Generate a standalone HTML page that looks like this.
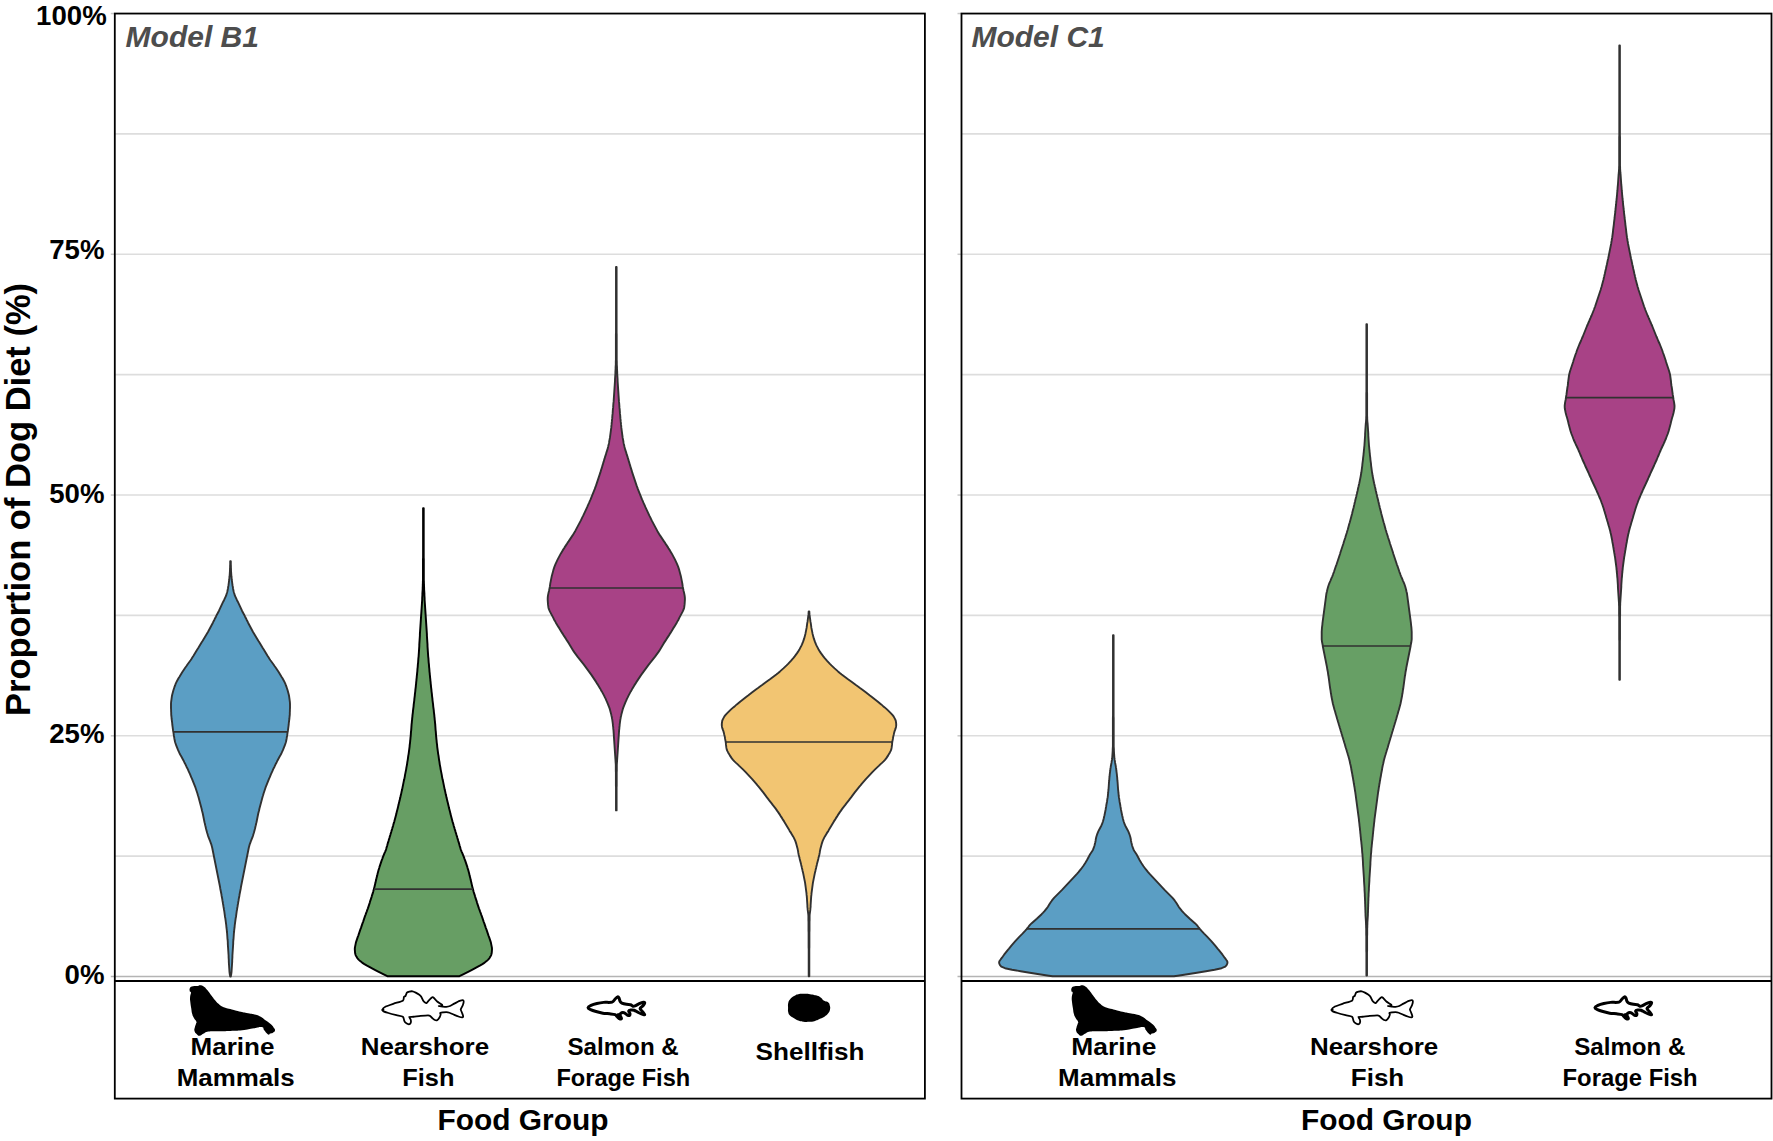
<!DOCTYPE html>
<html lang="en"><head><meta charset="utf-8"><title>Dog diet violin plots</title>
<style>
html,body{margin:0;padding:0;background:#fff;}
svg{display:block;font-family:"Liberation Sans",sans-serif;font-weight:bold;fill:#000;}
</style></head><body>
<svg width="1773" height="1141" viewBox="0 0 1773 1141">
<rect width="1773" height="1141" fill="#fff"/>
<line x1="114.8" x2="924.9" y1="856.17" y2="856.17" stroke="#dddddd" stroke-width="1.6"/>
<line x1="114.8" x2="924.9" y1="735.80" y2="735.80" stroke="#dddddd" stroke-width="1.6"/>
<line x1="114.8" x2="924.9" y1="615.42" y2="615.42" stroke="#dddddd" stroke-width="1.6"/>
<line x1="114.8" x2="924.9" y1="495.05" y2="495.05" stroke="#dddddd" stroke-width="1.6"/>
<line x1="114.8" x2="924.9" y1="374.67" y2="374.67" stroke="#dddddd" stroke-width="1.6"/>
<line x1="114.8" x2="924.9" y1="254.30" y2="254.30" stroke="#dddddd" stroke-width="1.6"/>
<line x1="114.8" x2="924.9" y1="133.92" y2="133.92" stroke="#dddddd" stroke-width="1.6"/>
<line x1="110.8" x2="924.9" y1="976.55" y2="976.55" stroke="#b4b4b4" stroke-width="1.5"/>
<line x1="110.8" x2="114.8" y1="735.80" y2="735.80" stroke="#c8c8c8" stroke-width="1.5"/>
<line x1="110.8" x2="114.8" y1="495.05" y2="495.05" stroke="#c8c8c8" stroke-width="1.5"/>
<line x1="110.8" x2="114.8" y1="254.30" y2="254.30" stroke="#c8c8c8" stroke-width="1.5"/>
<line x1="110.8" x2="114.8" y1="13.55" y2="13.55" stroke="#c8c8c8" stroke-width="1.5"/>
<line x1="961.5" x2="1771.5" y1="856.17" y2="856.17" stroke="#dddddd" stroke-width="1.6"/>
<line x1="961.5" x2="1771.5" y1="735.80" y2="735.80" stroke="#dddddd" stroke-width="1.6"/>
<line x1="961.5" x2="1771.5" y1="615.42" y2="615.42" stroke="#dddddd" stroke-width="1.6"/>
<line x1="961.5" x2="1771.5" y1="495.05" y2="495.05" stroke="#dddddd" stroke-width="1.6"/>
<line x1="961.5" x2="1771.5" y1="374.67" y2="374.67" stroke="#dddddd" stroke-width="1.6"/>
<line x1="961.5" x2="1771.5" y1="254.30" y2="254.30" stroke="#dddddd" stroke-width="1.6"/>
<line x1="961.5" x2="1771.5" y1="133.92" y2="133.92" stroke="#dddddd" stroke-width="1.6"/>
<line x1="957.5" x2="1771.5" y1="976.55" y2="976.55" stroke="#b4b4b4" stroke-width="1.5"/>
<line x1="957.5" x2="961.5" y1="735.80" y2="735.80" stroke="#c8c8c8" stroke-width="1.5"/>
<line x1="957.5" x2="961.5" y1="495.05" y2="495.05" stroke="#c8c8c8" stroke-width="1.5"/>
<line x1="957.5" x2="961.5" y1="254.30" y2="254.30" stroke="#c8c8c8" stroke-width="1.5"/>
<line x1="957.5" x2="961.5" y1="13.55" y2="13.55" stroke="#c8c8c8" stroke-width="1.5"/>
<path d="M230.8,561.2 L230.8,562.7 L230.8,564.2 L230.9,565.7 L230.9,567.2 L231.0,568.7 L231.0,570.2 L231.1,571.7 L231.2,573.2 L231.3,574.7 L231.4,576.2 L231.6,577.7 L231.7,579.2 L231.9,580.7 L232.1,582.2 L232.3,583.7 L232.5,585.2 L232.8,586.7 L233.0,588.2 L233.3,589.7 L233.6,591.2 L234.0,592.7 L234.5,594.2 L234.9,595.7 L235.6,597.2 L236.3,598.7 L237.0,600.2 L237.8,601.7 L238.5,603.2 L239.2,604.7 L239.9,606.2 L240.6,607.7 L241.3,609.2 L242.0,610.7 L242.8,612.2 L243.6,613.7 L244.4,615.2 L245.1,616.7 L245.9,618.2 L246.6,619.7 L247.4,621.2 L248.1,622.7 L248.9,624.2 L249.7,625.7 L250.5,627.2 L251.3,628.7 L252.1,630.2 L252.9,631.7 L253.8,633.2 L254.7,634.7 L255.6,636.2 L256.5,637.7 L257.4,639.2 L258.3,640.7 L259.3,642.2 L260.2,643.7 L261.1,645.2 L262.0,646.7 L262.9,648.2 L263.9,649.7 L264.8,651.2 L265.7,652.7 L266.6,654.2 L267.5,655.7 L268.5,657.2 L269.4,658.7 L270.4,660.2 L271.5,661.7 L272.6,663.2 L273.7,664.7 L274.7,666.2 L275.8,667.7 L276.8,669.2 L277.8,670.7 L278.8,672.2 L279.7,673.7 L280.6,675.2 L281.5,676.7 L282.5,678.2 L283.3,679.7 L284.1,681.2 L284.8,682.7 L285.5,684.2 L286.0,685.7 L286.6,687.2 L287.1,688.7 L287.6,690.2 L288.0,691.7 L288.4,693.2 L288.8,694.7 L289.1,696.2 L289.3,697.7 L289.5,699.2 L289.7,700.7 L289.9,702.2 L290.0,703.7 L290.0,705.2 L290.0,706.7 L290.0,708.2 L289.9,709.7 L289.9,711.2 L289.8,712.7 L289.8,714.2 L289.7,715.7 L289.5,717.2 L289.4,718.7 L289.2,720.2 L289.0,721.7 L288.8,723.2 L288.7,724.7 L288.5,726.2 L288.3,727.7 L288.1,729.2 L287.9,730.7 L287.6,732.2 L287.4,733.7 L287.2,735.2 L286.9,736.7 L286.7,738.2 L286.4,739.7 L286.1,741.2 L285.7,742.7 L285.2,744.2 L284.7,745.7 L284.1,747.2 L283.5,748.7 L282.9,750.2 L282.2,751.7 L281.5,753.2 L280.7,754.7 L279.8,756.2 L279.0,757.7 L278.2,759.2 L277.4,760.7 L276.7,762.2 L275.9,763.7 L275.2,765.2 L274.5,766.7 L273.7,768.2 L273.0,769.7 L272.4,771.2 L271.7,772.7 L271.0,774.2 L270.4,775.7 L269.8,777.2 L269.1,778.7 L268.5,780.2 L267.9,781.7 L267.3,783.2 L266.7,784.7 L266.1,786.2 L265.5,787.7 L265.0,789.2 L264.5,790.7 L264.0,792.2 L263.5,793.7 L263.1,795.2 L262.6,796.7 L262.2,798.2 L261.8,799.7 L261.4,801.2 L261.0,802.7 L260.6,804.2 L260.2,805.7 L259.8,807.2 L259.4,808.7 L259.1,810.2 L258.7,811.7 L258.3,813.2 L258.0,814.7 L257.7,816.2 L257.4,817.7 L257.1,819.2 L256.8,820.7 L256.5,822.2 L256.1,823.7 L255.8,825.2 L255.4,826.7 L255.1,828.2 L254.7,829.7 L254.3,831.2 L253.9,832.7 L253.4,834.2 L253.0,835.7 L252.5,837.2 L251.9,838.7 L251.3,840.2 L250.7,841.7 L250.2,843.2 L249.6,844.7 L249.2,846.2 L248.8,847.7 L248.5,849.2 L248.2,850.7 L247.9,852.2 L247.6,853.7 L247.3,855.2 L247.0,856.7 L246.7,858.2 L246.4,859.7 L246.1,861.2 L245.8,862.7 L245.5,864.2 L245.2,865.7 L244.9,867.2 L244.6,868.7 L244.3,870.2 L244.0,871.7 L243.7,873.2 L243.4,874.7 L243.1,876.2 L242.8,877.7 L242.5,879.2 L242.2,880.7 L241.9,882.2 L241.6,883.7 L241.3,885.2 L241.0,886.7 L240.8,888.2 L240.5,889.7 L240.2,891.2 L239.9,892.7 L239.6,894.2 L239.4,895.7 L239.1,897.2 L238.8,898.7 L238.6,900.2 L238.3,901.7 L238.1,903.2 L237.8,904.7 L237.6,906.2 L237.3,907.7 L237.1,909.2 L236.8,910.7 L236.6,912.2 L236.4,913.7 L236.2,915.2 L236.0,916.7 L235.7,918.2 L235.5,919.7 L235.3,921.2 L235.1,922.7 L234.9,924.2 L234.7,925.7 L234.6,927.2 L234.4,928.7 L234.2,930.2 L234.1,931.7 L233.9,933.2 L233.8,934.7 L233.7,936.2 L233.6,937.7 L233.5,939.2 L233.3,940.7 L233.2,942.2 L233.2,943.7 L233.1,945.2 L233.0,946.7 L232.9,948.2 L232.8,949.7 L232.7,951.2 L232.6,952.7 L232.5,954.2 L232.4,955.7 L232.4,957.2 L232.3,958.7 L232.2,960.2 L232.2,961.7 L232.1,963.2 L232.0,964.7 L231.9,966.2 L231.8,967.7 L231.7,969.2 L231.6,970.7 L231.5,972.2 L231.3,973.7 L231.0,975.2 L230.8,976.6 L230.2,976.6 L230.0,975.2 L229.7,973.7 L229.5,972.2 L229.4,970.7 L229.3,969.2 L229.2,967.7 L229.1,966.2 L229.0,964.7 L228.9,963.2 L228.8,961.7 L228.8,960.2 L228.7,958.7 L228.6,957.2 L228.6,955.7 L228.5,954.2 L228.4,952.7 L228.3,951.2 L228.2,949.7 L228.1,948.2 L228.0,946.7 L227.9,945.2 L227.8,943.7 L227.8,942.2 L227.7,940.7 L227.5,939.2 L227.4,937.7 L227.3,936.2 L227.2,934.7 L227.1,933.2 L226.9,931.7 L226.8,930.2 L226.6,928.7 L226.4,927.2 L226.3,925.7 L226.1,924.2 L225.9,922.7 L225.7,921.2 L225.5,919.7 L225.3,918.2 L225.0,916.7 L224.8,915.2 L224.6,913.7 L224.4,912.2 L224.2,910.7 L223.9,909.2 L223.7,907.7 L223.4,906.2 L223.2,904.7 L222.9,903.2 L222.7,901.7 L222.4,900.2 L222.2,898.7 L221.9,897.2 L221.6,895.7 L221.4,894.2 L221.1,892.7 L220.8,891.2 L220.5,889.7 L220.2,888.2 L220.0,886.7 L219.7,885.2 L219.4,883.7 L219.1,882.2 L218.8,880.7 L218.5,879.2 L218.2,877.7 L217.9,876.2 L217.6,874.7 L217.3,873.2 L217.0,871.7 L216.7,870.2 L216.4,868.7 L216.1,867.2 L215.8,865.7 L215.5,864.2 L215.2,862.7 L214.9,861.2 L214.6,859.7 L214.3,858.2 L214.0,856.7 L213.7,855.2 L213.4,853.7 L213.1,852.2 L212.8,850.7 L212.5,849.2 L212.2,847.7 L211.8,846.2 L211.4,844.7 L210.8,843.2 L210.3,841.7 L209.7,840.2 L209.1,838.7 L208.5,837.2 L208.0,835.7 L207.6,834.2 L207.1,832.7 L206.7,831.2 L206.3,829.7 L205.9,828.2 L205.6,826.7 L205.2,825.2 L204.9,823.7 L204.5,822.2 L204.2,820.7 L203.9,819.2 L203.6,817.7 L203.3,816.2 L203.0,814.7 L202.7,813.2 L202.3,811.7 L201.9,810.2 L201.6,808.7 L201.2,807.2 L200.8,805.7 L200.4,804.2 L200.0,802.7 L199.6,801.2 L199.2,799.7 L198.8,798.2 L198.4,796.7 L197.9,795.2 L197.5,793.7 L197.0,792.2 L196.5,790.7 L196.0,789.2 L195.5,787.7 L194.9,786.2 L194.3,784.7 L193.7,783.2 L193.1,781.7 L192.5,780.2 L191.9,778.7 L191.2,777.2 L190.6,775.7 L190.0,774.2 L189.3,772.7 L188.6,771.2 L188.0,769.7 L187.3,768.2 L186.5,766.7 L185.8,765.2 L185.1,763.7 L184.3,762.2 L183.6,760.7 L182.8,759.2 L182.0,757.7 L181.2,756.2 L180.3,754.7 L179.5,753.2 L178.8,751.7 L178.1,750.2 L177.5,748.7 L176.9,747.2 L176.3,745.7 L175.8,744.2 L175.3,742.7 L174.9,741.2 L174.6,739.7 L174.3,738.2 L174.1,736.7 L173.8,735.2 L173.6,733.7 L173.4,732.2 L173.1,730.7 L172.9,729.2 L172.7,727.7 L172.5,726.2 L172.3,724.7 L172.2,723.2 L172.0,721.7 L171.8,720.2 L171.6,718.7 L171.5,717.2 L171.3,715.7 L171.2,714.2 L171.2,712.7 L171.1,711.2 L171.1,709.7 L171.0,708.2 L171.0,706.7 L171.0,705.2 L171.0,703.7 L171.1,702.2 L171.3,700.7 L171.5,699.2 L171.7,697.7 L171.9,696.2 L172.2,694.7 L172.6,693.2 L173.0,691.7 L173.4,690.2 L173.9,688.7 L174.4,687.2 L175.0,685.7 L175.5,684.2 L176.2,682.7 L176.9,681.2 L177.7,679.7 L178.5,678.2 L179.5,676.7 L180.4,675.2 L181.3,673.7 L182.2,672.2 L183.2,670.7 L184.2,669.2 L185.2,667.7 L186.3,666.2 L187.3,664.7 L188.4,663.2 L189.5,661.7 L190.6,660.2 L191.6,658.7 L192.5,657.2 L193.5,655.7 L194.4,654.2 L195.3,652.7 L196.2,651.2 L197.1,649.7 L198.1,648.2 L199.0,646.7 L199.9,645.2 L200.8,643.7 L201.7,642.2 L202.7,640.7 L203.6,639.2 L204.5,637.7 L205.4,636.2 L206.3,634.7 L207.2,633.2 L208.1,631.7 L208.9,630.2 L209.7,628.7 L210.5,627.2 L211.3,625.7 L212.1,624.2 L212.9,622.7 L213.6,621.2 L214.4,619.7 L215.1,618.2 L215.9,616.7 L216.6,615.2 L217.4,613.7 L218.2,612.2 L219.0,610.7 L219.7,609.2 L220.4,607.7 L221.1,606.2 L221.8,604.7 L222.5,603.2 L223.2,601.7 L224.0,600.2 L224.7,598.7 L225.4,597.2 L226.1,595.7 L226.5,594.2 L227.0,592.7 L227.4,591.2 L227.7,589.7 L228.0,588.2 L228.2,586.7 L228.5,585.2 L228.7,583.7 L228.9,582.2 L229.1,580.7 L229.3,579.2 L229.4,577.7 L229.6,576.2 L229.7,574.7 L229.8,573.2 L229.9,571.7 L230.0,570.2 L230.0,568.7 L230.1,567.2 L230.1,565.7 L230.2,564.2 L230.2,562.7 L230.2,561.2Z" fill="#5b9ec4" stroke="#313131" stroke-width="1.9" stroke-linejoin="round"/><line x1="173.3" x2="287.7" y1="731.8" y2="731.8" stroke="#313131" stroke-width="1.7"/>
<path d="M423.7,508.1 L423.7,509.6 L423.7,511.1 L423.7,512.6 L423.7,514.1 L423.7,515.6 L423.7,517.1 L423.7,518.6 L423.7,520.1 L423.7,521.6 L423.7,523.1 L423.7,524.6 L423.7,526.1 L423.7,527.6 L423.7,529.1 L423.7,530.6 L423.7,532.1 L423.7,533.6 L423.7,535.1 L423.7,536.6 L423.7,538.1 L423.7,539.6 L423.7,541.1 L423.7,542.6 L423.7,544.1 L423.7,545.6 L423.7,547.1 L423.7,548.6 L423.7,550.1 L423.7,551.6 L423.7,553.1 L423.7,554.6 L423.7,556.1 L423.7,557.6 L423.8,559.1 L423.8,560.6 L423.8,562.1 L423.8,563.6 L423.8,565.1 L423.8,566.6 L423.8,568.1 L423.8,569.6 L423.8,571.1 L423.8,572.6 L423.8,574.1 L423.8,575.6 L423.8,577.1 L423.8,578.6 L423.8,580.1 L423.9,581.6 L423.9,583.1 L424.0,584.6 L424.0,586.1 L424.1,587.6 L424.1,589.1 L424.2,590.6 L424.3,592.1 L424.4,593.6 L424.4,595.1 L424.5,596.6 L424.6,598.1 L424.6,599.6 L424.7,601.1 L424.8,602.6 L424.9,604.1 L425.0,605.6 L425.1,607.1 L425.2,608.6 L425.3,610.1 L425.4,611.6 L425.5,613.1 L425.6,614.6 L425.7,616.1 L425.8,617.6 L425.9,619.1 L426.0,620.6 L426.1,622.1 L426.2,623.6 L426.3,625.1 L426.4,626.6 L426.5,628.1 L426.6,629.6 L426.7,631.1 L426.8,632.6 L426.9,634.1 L426.9,635.6 L427.0,637.1 L427.1,638.6 L427.2,640.1 L427.3,641.6 L427.4,643.1 L427.5,644.6 L427.5,646.1 L427.6,647.6 L427.7,649.1 L427.8,650.6 L427.9,652.1 L428.0,653.6 L428.1,655.1 L428.2,656.6 L428.4,658.1 L428.5,659.6 L428.6,661.1 L428.7,662.6 L428.9,664.1 L429.0,665.6 L429.1,667.1 L429.3,668.6 L429.4,670.1 L429.5,671.6 L429.7,673.1 L429.8,674.6 L430.0,676.1 L430.1,677.6 L430.3,679.1 L430.4,680.6 L430.6,682.1 L430.7,683.6 L430.9,685.1 L431.0,686.6 L431.2,688.1 L431.4,689.6 L431.5,691.1 L431.7,692.6 L431.9,694.1 L432.0,695.6 L432.2,697.1 L432.4,698.6 L432.5,700.1 L432.7,701.6 L432.9,703.1 L433.1,704.6 L433.2,706.1 L433.4,707.6 L433.6,709.1 L433.8,710.6 L433.9,712.1 L434.1,713.6 L434.3,715.1 L434.4,716.6 L434.6,718.1 L434.7,719.6 L434.9,721.1 L435.0,722.6 L435.2,724.1 L435.3,725.6 L435.4,727.1 L435.5,728.6 L435.6,730.1 L435.8,731.6 L435.9,733.1 L436.0,734.6 L436.1,736.1 L436.3,737.6 L436.4,739.1 L436.6,740.6 L436.7,742.1 L436.9,743.6 L437.1,745.1 L437.2,746.6 L437.4,748.1 L437.6,749.6 L437.8,751.1 L438.0,752.6 L438.2,754.1 L438.5,755.6 L438.7,757.1 L438.9,758.6 L439.1,760.1 L439.4,761.6 L439.6,763.1 L439.8,764.6 L440.1,766.1 L440.4,767.6 L440.6,769.1 L440.9,770.6 L441.2,772.1 L441.5,773.6 L441.8,775.1 L442.0,776.6 L442.3,778.1 L442.6,779.6 L443.0,781.1 L443.3,782.6 L443.6,784.1 L443.9,785.6 L444.2,787.1 L444.5,788.6 L444.8,790.1 L445.2,791.6 L445.5,793.1 L445.8,794.6 L446.2,796.1 L446.5,797.6 L446.9,799.1 L447.2,800.6 L447.6,802.1 L448.0,803.6 L448.3,805.1 L448.7,806.6 L449.0,808.1 L449.4,809.6 L449.8,811.1 L450.2,812.6 L450.5,814.1 L450.9,815.6 L451.3,817.1 L451.7,818.6 L452.1,820.1 L452.5,821.6 L453.0,823.1 L453.4,824.6 L453.8,826.1 L454.3,827.6 L454.7,829.1 L455.2,830.6 L455.6,832.1 L456.1,833.6 L456.5,835.1 L457.0,836.6 L457.4,838.1 L457.9,839.6 L458.3,841.1 L458.8,842.6 L459.2,844.1 L459.6,845.6 L460.1,847.1 L460.5,848.6 L461.0,850.1 L461.6,851.6 L462.3,853.1 L462.9,854.6 L463.5,856.1 L464.1,857.6 L464.6,859.1 L465.2,860.6 L465.7,862.1 L466.2,863.6 L466.7,865.1 L467.2,866.6 L467.6,868.1 L468.1,869.6 L468.5,871.1 L468.9,872.6 L469.3,874.1 L469.6,875.6 L470.0,877.1 L470.4,878.6 L470.7,880.1 L471.1,881.6 L471.4,883.1 L471.8,884.6 L472.1,886.1 L472.5,887.6 L472.9,889.1 L473.3,890.6 L473.7,892.1 L474.2,893.6 L474.7,895.1 L475.1,896.6 L475.6,898.1 L476.1,899.6 L476.6,901.1 L477.0,902.6 L477.5,904.1 L478.0,905.6 L478.5,907.1 L479.0,908.6 L479.6,910.1 L480.1,911.6 L480.7,913.1 L481.2,914.6 L481.8,916.1 L482.3,917.6 L482.8,919.1 L483.3,920.6 L483.8,922.1 L484.4,923.6 L484.9,925.1 L485.4,926.6 L485.9,928.1 L486.5,929.6 L487.0,931.1 L487.5,932.6 L488.0,934.1 L488.5,935.6 L489.1,937.1 L489.6,938.6 L490.1,940.1 L490.6,941.6 L491.0,943.1 L491.3,944.6 L491.6,946.1 L491.9,947.6 L492.0,949.1 L491.9,950.6 L491.8,952.1 L491.6,953.6 L491.2,955.1 L490.4,956.6 L489.5,958.1 L488.2,959.6 L486.6,961.1 L484.7,962.6 L482.4,964.1 L479.8,965.6 L477.0,967.1 L474.3,968.6 L471.5,970.1 L468.6,971.6 L465.6,973.1 L462.6,974.6 L459.5,976.1 L459.1,976.3 L387.7,976.3 L387.3,976.1 L384.2,974.6 L381.2,973.1 L378.2,971.6 L375.3,970.1 L372.5,968.6 L369.8,967.1 L367.0,965.6 L364.4,964.1 L362.1,962.6 L360.2,961.1 L358.6,959.6 L357.3,958.1 L356.4,956.6 L355.6,955.1 L355.2,953.6 L355.0,952.1 L354.9,950.6 L354.8,949.1 L354.9,947.6 L355.2,946.1 L355.5,944.6 L355.8,943.1 L356.2,941.6 L356.7,940.1 L357.2,938.6 L357.7,937.1 L358.3,935.6 L358.8,934.1 L359.3,932.6 L359.8,931.1 L360.3,929.6 L360.9,928.1 L361.4,926.6 L361.9,925.1 L362.4,923.6 L363.0,922.1 L363.5,920.6 L364.0,919.1 L364.5,917.6 L365.0,916.1 L365.6,914.6 L366.1,913.1 L366.7,911.6 L367.2,910.1 L367.8,908.6 L368.3,907.1 L368.8,905.6 L369.3,904.1 L369.8,902.6 L370.2,901.1 L370.7,899.6 L371.2,898.1 L371.7,896.6 L372.1,895.1 L372.6,893.6 L373.1,892.1 L373.5,890.6 L373.9,889.1 L374.3,887.6 L374.7,886.1 L375.0,884.6 L375.4,883.1 L375.7,881.6 L376.1,880.1 L376.4,878.6 L376.8,877.1 L377.2,875.6 L377.5,874.1 L377.9,872.6 L378.3,871.1 L378.7,869.6 L379.2,868.1 L379.6,866.6 L380.1,865.1 L380.6,863.6 L381.1,862.1 L381.6,860.6 L382.2,859.1 L382.7,857.6 L383.3,856.1 L383.9,854.6 L384.5,853.1 L385.2,851.6 L385.8,850.1 L386.3,848.6 L386.7,847.1 L387.2,845.6 L387.6,844.1 L388.0,842.6 L388.5,841.1 L388.9,839.6 L389.4,838.1 L389.8,836.6 L390.3,835.1 L390.7,833.6 L391.2,832.1 L391.6,830.6 L392.1,829.1 L392.5,827.6 L393.0,826.1 L393.4,824.6 L393.8,823.1 L394.3,821.6 L394.7,820.1 L395.1,818.6 L395.5,817.1 L395.9,815.6 L396.3,814.1 L396.6,812.6 L397.0,811.1 L397.4,809.6 L397.8,808.1 L398.1,806.6 L398.5,805.1 L398.8,803.6 L399.2,802.1 L399.6,800.6 L399.9,799.1 L400.3,797.6 L400.6,796.1 L401.0,794.6 L401.3,793.1 L401.6,791.6 L402.0,790.1 L402.3,788.6 L402.6,787.1 L402.9,785.6 L403.2,784.1 L403.5,782.6 L403.8,781.1 L404.2,779.6 L404.5,778.1 L404.8,776.6 L405.0,775.1 L405.3,773.6 L405.6,772.1 L405.9,770.6 L406.2,769.1 L406.4,767.6 L406.7,766.1 L407.0,764.6 L407.2,763.1 L407.4,761.6 L407.7,760.1 L407.9,758.6 L408.1,757.1 L408.3,755.6 L408.6,754.1 L408.8,752.6 L409.0,751.1 L409.2,749.6 L409.4,748.1 L409.6,746.6 L409.7,745.1 L409.9,743.6 L410.1,742.1 L410.2,740.6 L410.4,739.1 L410.5,737.6 L410.7,736.1 L410.8,734.6 L410.9,733.1 L411.0,731.6 L411.2,730.1 L411.3,728.6 L411.4,727.1 L411.5,725.6 L411.6,724.1 L411.8,722.6 L411.9,721.1 L412.1,719.6 L412.2,718.1 L412.4,716.6 L412.5,715.1 L412.7,713.6 L412.9,712.1 L413.0,710.6 L413.2,709.1 L413.4,707.6 L413.6,706.1 L413.7,704.6 L413.9,703.1 L414.1,701.6 L414.3,700.1 L414.4,698.6 L414.6,697.1 L414.8,695.6 L414.9,694.1 L415.1,692.6 L415.3,691.1 L415.4,689.6 L415.6,688.1 L415.8,686.6 L415.9,685.1 L416.1,683.6 L416.2,682.1 L416.4,680.6 L416.5,679.1 L416.7,677.6 L416.8,676.1 L417.0,674.6 L417.1,673.1 L417.3,671.6 L417.4,670.1 L417.5,668.6 L417.7,667.1 L417.8,665.6 L417.9,664.1 L418.1,662.6 L418.2,661.1 L418.3,659.6 L418.4,658.1 L418.6,656.6 L418.7,655.1 L418.8,653.6 L418.9,652.1 L419.0,650.6 L419.1,649.1 L419.2,647.6 L419.3,646.1 L419.3,644.6 L419.4,643.1 L419.5,641.6 L419.6,640.1 L419.7,638.6 L419.8,637.1 L419.9,635.6 L419.9,634.1 L420.0,632.6 L420.1,631.1 L420.2,629.6 L420.3,628.1 L420.4,626.6 L420.5,625.1 L420.6,623.6 L420.7,622.1 L420.8,620.6 L420.9,619.1 L421.0,617.6 L421.1,616.1 L421.2,614.6 L421.3,613.1 L421.4,611.6 L421.5,610.1 L421.6,608.6 L421.7,607.1 L421.8,605.6 L421.9,604.1 L422.0,602.6 L422.1,601.1 L422.2,599.6 L422.2,598.1 L422.3,596.6 L422.4,595.1 L422.4,593.6 L422.5,592.1 L422.6,590.6 L422.7,589.1 L422.7,587.6 L422.8,586.1 L422.8,584.6 L422.9,583.1 L422.9,581.6 L423.0,580.1 L423.0,578.6 L423.0,577.1 L423.0,575.6 L423.0,574.1 L423.0,572.6 L423.0,571.1 L423.0,569.6 L423.0,568.1 L423.0,566.6 L423.0,565.1 L423.0,563.6 L423.0,562.1 L423.0,560.6 L423.0,559.1 L423.1,557.6 L423.1,556.1 L423.1,554.6 L423.1,553.1 L423.1,551.6 L423.1,550.1 L423.1,548.6 L423.1,547.1 L423.1,545.6 L423.1,544.1 L423.1,542.6 L423.1,541.1 L423.1,539.6 L423.1,538.1 L423.1,536.6 L423.1,535.1 L423.1,533.6 L423.1,532.1 L423.1,530.6 L423.1,529.1 L423.1,527.6 L423.1,526.1 L423.1,524.6 L423.1,523.1 L423.1,521.6 L423.1,520.1 L423.1,518.6 L423.1,517.1 L423.1,515.6 L423.1,514.1 L423.1,512.6 L423.1,511.1 L423.1,509.6 L423.1,508.1Z" fill="#679e64" stroke="#000" stroke-width="1.95" stroke-linejoin="round"/><line x1="373.9" x2="472.9" y1="889.2" y2="889.2" stroke="#313131" stroke-width="1.7"/>
<path d="M616.6,266.9 L616.6,268.4 L616.6,269.9 L616.6,271.4 L616.6,272.9 L616.6,274.4 L616.6,275.9 L616.6,277.4 L616.6,278.9 L616.6,280.4 L616.6,281.9 L616.6,283.4 L616.6,284.9 L616.6,286.4 L616.6,287.9 L616.6,289.4 L616.6,290.9 L616.6,292.4 L616.6,293.9 L616.6,295.4 L616.6,296.9 L616.6,298.4 L616.6,299.9 L616.6,301.4 L616.6,302.9 L616.6,304.4 L616.6,305.9 L616.6,307.4 L616.6,308.9 L616.6,310.4 L616.6,311.9 L616.6,313.4 L616.6,314.9 L616.6,316.4 L616.6,317.9 L616.6,319.4 L616.6,320.9 L616.6,322.4 L616.6,323.9 L616.6,325.4 L616.6,326.9 L616.6,328.4 L616.6,329.9 L616.6,331.4 L616.6,332.9 L616.7,334.4 L616.7,335.9 L616.7,337.4 L616.7,338.9 L616.7,340.4 L616.7,341.9 L616.7,343.4 L616.7,344.9 L616.7,346.4 L616.7,347.9 L616.7,349.4 L616.7,350.9 L616.7,352.4 L616.7,353.9 L616.7,355.4 L616.7,356.9 L616.7,358.4 L616.7,359.9 L616.8,361.4 L616.8,362.9 L616.8,364.4 L616.9,365.9 L617.0,367.4 L617.0,368.9 L617.1,370.4 L617.2,371.9 L617.2,373.4 L617.3,374.9 L617.4,376.4 L617.5,377.9 L617.6,379.4 L617.6,380.9 L617.7,382.4 L617.8,383.9 L617.9,385.4 L618.0,386.9 L618.1,388.4 L618.2,389.9 L618.3,391.4 L618.4,392.9 L618.5,394.4 L618.6,395.9 L618.7,397.4 L618.8,398.9 L618.9,400.4 L619.0,401.9 L619.2,403.4 L619.3,404.9 L619.4,406.4 L619.5,407.9 L619.7,409.4 L619.8,410.9 L619.9,412.4 L620.0,413.9 L620.2,415.4 L620.3,416.9 L620.4,418.4 L620.6,419.9 L620.7,421.4 L620.9,422.9 L621.0,424.4 L621.2,425.9 L621.3,427.4 L621.5,428.9 L621.7,430.4 L621.9,431.9 L622.1,433.4 L622.3,434.9 L622.5,436.4 L622.7,437.9 L623.0,439.4 L623.3,440.9 L623.5,442.4 L623.8,443.9 L624.2,445.4 L624.5,446.9 L624.9,448.4 L625.3,449.9 L625.8,451.4 L626.3,452.9 L626.7,454.4 L627.2,455.9 L627.7,457.4 L628.1,458.9 L628.6,460.4 L629.0,461.9 L629.5,463.4 L629.9,464.9 L630.4,466.4 L630.8,467.9 L631.3,469.4 L631.8,470.9 L632.2,472.4 L632.7,473.9 L633.2,475.4 L633.7,476.9 L634.2,478.4 L634.7,479.9 L635.2,481.4 L635.7,482.9 L636.2,484.4 L636.7,485.9 L637.3,487.4 L637.8,488.9 L638.4,490.4 L639.0,491.9 L639.6,493.4 L640.2,494.9 L640.8,496.4 L641.4,497.9 L642.0,499.4 L642.7,500.9 L643.3,502.4 L644.0,503.9 L644.7,505.4 L645.3,506.9 L646.0,508.4 L646.7,509.9 L647.4,511.4 L648.1,512.9 L648.8,514.4 L649.5,515.9 L650.3,517.4 L651.0,518.9 L651.7,520.4 L652.5,521.9 L653.3,523.4 L654.1,524.9 L654.9,526.4 L655.7,527.9 L656.5,529.4 L657.3,530.9 L658.2,532.4 L659.1,533.9 L660.0,535.4 L661.0,536.9 L662.0,538.4 L663.0,539.9 L664.0,541.4 L665.1,542.9 L666.0,544.4 L667.0,545.9 L668.0,547.4 L668.9,548.9 L669.9,550.4 L670.8,551.9 L671.7,553.4 L672.5,554.9 L673.3,556.4 L674.1,557.9 L674.9,559.4 L675.6,560.9 L676.3,562.4 L677.0,563.9 L677.6,565.4 L678.2,566.9 L678.7,568.4 L679.2,569.9 L679.6,571.4 L680.0,572.9 L680.4,574.4 L680.8,575.9 L681.1,577.4 L681.4,578.9 L681.7,580.4 L682.0,581.9 L682.3,583.4 L682.5,584.9 L682.7,586.4 L683.0,587.9 L683.3,589.4 L683.6,590.9 L684.0,592.4 L684.3,593.9 L684.6,595.4 L684.8,596.9 L684.9,598.4 L684.9,599.9 L684.8,601.4 L684.7,602.9 L684.6,604.4 L684.4,605.9 L684.2,607.4 L683.8,608.9 L683.2,610.4 L682.5,611.9 L681.7,613.4 L680.9,614.9 L680.1,616.4 L679.3,617.9 L678.6,619.4 L677.7,620.9 L676.9,622.4 L676.0,623.9 L675.1,625.4 L674.2,626.9 L673.2,628.4 L672.3,629.9 L671.4,631.4 L670.5,632.9 L669.5,634.4 L668.6,635.9 L667.6,637.4 L666.6,638.9 L665.7,640.4 L664.7,641.9 L663.7,643.4 L662.8,644.9 L661.9,646.4 L661.0,647.9 L660.1,649.4 L659.2,650.9 L658.2,652.4 L657.1,653.9 L656.0,655.4 L654.9,656.9 L653.7,658.4 L652.5,659.9 L651.3,661.4 L650.1,662.9 L648.9,664.4 L647.8,665.9 L646.7,667.4 L645.6,668.9 L644.5,670.4 L643.4,671.9 L642.3,673.4 L641.2,674.9 L640.2,676.4 L639.2,677.9 L638.2,679.4 L637.2,680.9 L636.2,682.4 L635.3,683.9 L634.3,685.4 L633.4,686.9 L632.5,688.4 L631.7,689.9 L630.8,691.4 L630.0,692.9 L629.2,694.4 L628.4,695.9 L627.7,697.4 L626.9,698.9 L626.3,700.4 L625.6,701.9 L625.0,703.4 L624.4,704.9 L623.8,706.4 L623.2,707.9 L622.7,709.4 L622.3,710.9 L621.9,712.4 L621.5,713.9 L621.2,715.4 L620.8,716.9 L620.6,718.4 L620.3,719.9 L620.1,721.4 L619.9,722.9 L619.7,724.4 L619.6,725.9 L619.4,727.4 L619.3,728.9 L619.1,730.4 L619.0,731.9 L618.9,733.4 L618.8,734.9 L618.7,736.4 L618.6,737.9 L618.5,739.4 L618.4,740.9 L618.3,742.4 L618.2,743.9 L618.1,745.4 L618.0,746.9 L617.9,748.4 L617.8,749.9 L617.7,751.4 L617.6,752.9 L617.5,754.4 L617.4,755.9 L617.3,757.4 L617.2,758.9 L617.1,760.4 L617.0,761.9 L616.9,763.4 L616.8,764.9 L616.8,766.4 L616.8,767.9 L616.8,769.4 L616.8,770.9 L616.7,772.4 L616.7,773.9 L616.7,775.4 L616.7,776.9 L616.7,778.4 L616.7,779.9 L616.7,781.4 L616.7,782.9 L616.7,784.4 L616.7,785.9 L616.6,787.4 L616.6,788.9 L616.6,790.4 L616.6,791.9 L616.6,793.4 L616.6,794.9 L616.6,796.4 L616.6,797.9 L616.6,799.4 L616.6,800.9 L616.6,802.4 L616.6,803.9 L616.6,805.4 L616.6,806.9 L616.6,808.4 L616.6,809.9 L616.6,810.4 L616.0,810.4 L616.0,809.9 L616.0,808.4 L616.0,806.9 L616.0,805.4 L616.0,803.9 L616.0,802.4 L616.0,800.9 L616.0,799.4 L616.0,797.9 L616.0,796.4 L616.0,794.9 L616.0,793.4 L616.0,791.9 L616.0,790.4 L616.0,788.9 L616.0,787.4 L615.9,785.9 L615.9,784.4 L615.9,782.9 L615.9,781.4 L615.9,779.9 L615.9,778.4 L615.9,776.9 L615.9,775.4 L615.9,773.9 L615.9,772.4 L615.8,770.9 L615.8,769.4 L615.8,767.9 L615.8,766.4 L615.8,764.9 L615.7,763.4 L615.6,761.9 L615.5,760.4 L615.4,758.9 L615.3,757.4 L615.2,755.9 L615.1,754.4 L615.0,752.9 L614.9,751.4 L614.8,749.9 L614.7,748.4 L614.6,746.9 L614.5,745.4 L614.4,743.9 L614.3,742.4 L614.2,740.9 L614.1,739.4 L614.0,737.9 L613.9,736.4 L613.8,734.9 L613.7,733.4 L613.6,731.9 L613.5,730.4 L613.3,728.9 L613.2,727.4 L613.0,725.9 L612.9,724.4 L612.7,722.9 L612.5,721.4 L612.3,719.9 L612.0,718.4 L611.8,716.9 L611.4,715.4 L611.1,713.9 L610.7,712.4 L610.3,710.9 L609.9,709.4 L609.4,707.9 L608.8,706.4 L608.2,704.9 L607.6,703.4 L607.0,701.9 L606.3,700.4 L605.7,698.9 L604.9,697.4 L604.2,695.9 L603.4,694.4 L602.6,692.9 L601.8,691.4 L600.9,689.9 L600.1,688.4 L599.2,686.9 L598.3,685.4 L597.3,683.9 L596.4,682.4 L595.4,680.9 L594.4,679.4 L593.4,677.9 L592.4,676.4 L591.4,674.9 L590.3,673.4 L589.2,671.9 L588.1,670.4 L587.0,668.9 L585.9,667.4 L584.8,665.9 L583.7,664.4 L582.5,662.9 L581.3,661.4 L580.1,659.9 L578.9,658.4 L577.7,656.9 L576.6,655.4 L575.5,653.9 L574.4,652.4 L573.4,650.9 L572.5,649.4 L571.6,647.9 L570.7,646.4 L569.8,644.9 L568.9,643.4 L567.9,641.9 L566.9,640.4 L566.0,638.9 L565.0,637.4 L564.0,635.9 L563.1,634.4 L562.1,632.9 L561.2,631.4 L560.3,629.9 L559.4,628.4 L558.4,626.9 L557.5,625.4 L556.6,623.9 L555.7,622.4 L554.9,620.9 L554.0,619.4 L553.3,617.9 L552.5,616.4 L551.7,614.9 L550.9,613.4 L550.1,611.9 L549.4,610.4 L548.8,608.9 L548.4,607.4 L548.2,605.9 L548.0,604.4 L547.9,602.9 L547.8,601.4 L547.7,599.9 L547.7,598.4 L547.8,596.9 L548.0,595.4 L548.3,593.9 L548.6,592.4 L549.0,590.9 L549.3,589.4 L549.6,587.9 L549.9,586.4 L550.1,584.9 L550.3,583.4 L550.6,581.9 L550.9,580.4 L551.2,578.9 L551.5,577.4 L551.8,575.9 L552.2,574.4 L552.6,572.9 L553.0,571.4 L553.4,569.9 L553.9,568.4 L554.4,566.9 L555.0,565.4 L555.6,563.9 L556.3,562.4 L557.0,560.9 L557.7,559.4 L558.5,557.9 L559.3,556.4 L560.1,554.9 L560.9,553.4 L561.8,551.9 L562.7,550.4 L563.7,548.9 L564.6,547.4 L565.6,545.9 L566.6,544.4 L567.5,542.9 L568.6,541.4 L569.6,539.9 L570.6,538.4 L571.6,536.9 L572.6,535.4 L573.5,533.9 L574.4,532.4 L575.3,530.9 L576.1,529.4 L576.9,527.9 L577.7,526.4 L578.5,524.9 L579.3,523.4 L580.1,521.9 L580.9,520.4 L581.6,518.9 L582.3,517.4 L583.1,515.9 L583.8,514.4 L584.5,512.9 L585.2,511.4 L585.9,509.9 L586.6,508.4 L587.3,506.9 L587.9,505.4 L588.6,503.9 L589.3,502.4 L589.9,500.9 L590.6,499.4 L591.2,497.9 L591.8,496.4 L592.4,494.9 L593.0,493.4 L593.6,491.9 L594.2,490.4 L594.8,488.9 L595.3,487.4 L595.9,485.9 L596.4,484.4 L596.9,482.9 L597.4,481.4 L597.9,479.9 L598.4,478.4 L598.9,476.9 L599.4,475.4 L599.9,473.9 L600.4,472.4 L600.8,470.9 L601.3,469.4 L601.8,467.9 L602.2,466.4 L602.7,464.9 L603.1,463.4 L603.6,461.9 L604.0,460.4 L604.5,458.9 L604.9,457.4 L605.4,455.9 L605.9,454.4 L606.3,452.9 L606.8,451.4 L607.3,449.9 L607.7,448.4 L608.1,446.9 L608.4,445.4 L608.8,443.9 L609.1,442.4 L609.3,440.9 L609.6,439.4 L609.9,437.9 L610.1,436.4 L610.3,434.9 L610.5,433.4 L610.7,431.9 L610.9,430.4 L611.1,428.9 L611.3,427.4 L611.4,425.9 L611.6,424.4 L611.7,422.9 L611.9,421.4 L612.0,419.9 L612.2,418.4 L612.3,416.9 L612.4,415.4 L612.6,413.9 L612.7,412.4 L612.8,410.9 L612.9,409.4 L613.1,407.9 L613.2,406.4 L613.3,404.9 L613.4,403.4 L613.6,401.9 L613.7,400.4 L613.8,398.9 L613.9,397.4 L614.0,395.9 L614.1,394.4 L614.2,392.9 L614.3,391.4 L614.4,389.9 L614.5,388.4 L614.6,386.9 L614.7,385.4 L614.8,383.9 L614.9,382.4 L615.0,380.9 L615.0,379.4 L615.1,377.9 L615.2,376.4 L615.3,374.9 L615.4,373.4 L615.4,371.9 L615.5,370.4 L615.6,368.9 L615.6,367.4 L615.7,365.9 L615.8,364.4 L615.8,362.9 L615.8,361.4 L615.9,359.9 L615.9,358.4 L615.9,356.9 L615.9,355.4 L615.9,353.9 L615.9,352.4 L615.9,350.9 L615.9,349.4 L615.9,347.9 L615.9,346.4 L615.9,344.9 L615.9,343.4 L615.9,341.9 L615.9,340.4 L615.9,338.9 L615.9,337.4 L615.9,335.9 L615.9,334.4 L616.0,332.9 L616.0,331.4 L616.0,329.9 L616.0,328.4 L616.0,326.9 L616.0,325.4 L616.0,323.9 L616.0,322.4 L616.0,320.9 L616.0,319.4 L616.0,317.9 L616.0,316.4 L616.0,314.9 L616.0,313.4 L616.0,311.9 L616.0,310.4 L616.0,308.9 L616.0,307.4 L616.0,305.9 L616.0,304.4 L616.0,302.9 L616.0,301.4 L616.0,299.9 L616.0,298.4 L616.0,296.9 L616.0,295.4 L616.0,293.9 L616.0,292.4 L616.0,290.9 L616.0,289.4 L616.0,287.9 L616.0,286.4 L616.0,284.9 L616.0,283.4 L616.0,281.9 L616.0,280.4 L616.0,278.9 L616.0,277.4 L616.0,275.9 L616.0,274.4 L616.0,272.9 L616.0,271.4 L616.0,269.9 L616.0,268.4 L616.0,266.9Z" fill="#a84286" stroke="#313131" stroke-width="1.9" stroke-linejoin="round"/><line x1="549.6" x2="683.0" y1="588.0" y2="588.0" stroke="#313131" stroke-width="1.7"/>
<path d="M809.3,611.4 L809.4,612.9 L809.5,614.4 L809.7,615.9 L809.9,617.4 L810.1,618.9 L810.3,620.4 L810.5,621.9 L810.8,623.4 L811.0,624.9 L811.2,626.4 L811.4,627.9 L811.7,629.4 L812.0,630.9 L812.3,632.4 L812.6,633.9 L813.0,635.4 L813.4,636.9 L813.8,638.4 L814.3,639.9 L814.8,641.4 L815.4,642.9 L816.0,644.4 L816.7,645.9 L817.5,647.4 L818.3,648.9 L819.2,650.4 L820.1,651.9 L821.1,653.4 L822.2,654.9 L823.3,656.4 L824.5,657.9 L825.8,659.4 L827.1,660.9 L828.5,662.4 L829.9,663.9 L831.4,665.4 L833.0,666.9 L834.6,668.4 L836.3,669.9 L838.0,671.4 L839.8,672.9 L841.7,674.4 L843.7,675.9 L845.7,677.4 L847.7,678.9 L849.8,680.4 L851.9,681.9 L853.9,683.4 L855.9,684.9 L858.0,686.4 L860.0,687.9 L862.1,689.4 L864.1,690.9 L866.1,692.4 L868.0,693.9 L869.9,695.4 L871.9,696.9 L873.8,698.4 L875.7,699.9 L877.6,701.4 L879.4,702.9 L881.2,704.4 L882.9,705.9 L884.7,707.4 L886.4,708.9 L888.0,710.4 L889.5,711.9 L891.0,713.4 L892.4,714.9 L893.6,716.4 L894.4,717.9 L895.2,719.4 L895.8,720.9 L896.0,722.4 L896.2,723.9 L896.2,725.4 L896.0,726.9 L895.6,728.4 L895.1,729.9 L894.5,731.4 L894.1,732.9 L893.8,734.4 L893.4,735.9 L893.1,737.4 L892.9,738.9 L892.6,740.4 L892.3,741.9 L892.1,743.4 L892.0,744.9 L891.8,746.4 L891.6,747.9 L891.3,749.4 L890.7,750.9 L889.9,752.4 L889.0,753.9 L888.2,755.4 L887.2,756.9 L886.2,758.4 L885.0,759.9 L883.6,761.4 L882.0,762.9 L880.3,764.4 L878.8,765.9 L877.2,767.4 L875.6,768.9 L874.1,770.4 L872.6,771.9 L871.2,773.4 L869.8,774.9 L868.4,776.4 L867.0,777.9 L865.6,779.4 L864.3,780.9 L863.0,782.4 L861.7,783.9 L860.5,785.4 L859.2,786.9 L858.0,788.4 L856.8,789.9 L855.6,791.4 L854.4,792.9 L853.3,794.4 L852.2,795.9 L851.1,797.4 L849.9,798.9 L848.8,800.4 L847.6,801.9 L846.4,803.4 L845.3,804.9 L844.1,806.4 L842.9,807.9 L841.8,809.4 L840.8,810.9 L839.7,812.4 L838.7,813.9 L837.7,815.4 L836.8,816.9 L835.8,818.4 L834.9,819.9 L833.9,821.4 L833.0,822.9 L832.1,824.4 L831.2,825.9 L830.3,827.4 L829.4,828.9 L828.6,830.4 L827.7,831.9 L826.7,833.4 L825.8,834.9 L824.9,836.4 L824.1,837.9 L823.4,839.4 L822.7,840.9 L822.2,842.4 L821.7,843.9 L821.3,845.4 L820.9,846.9 L820.5,848.4 L820.2,849.9 L819.9,851.4 L819.7,852.9 L819.4,854.4 L819.0,855.9 L818.6,857.4 L818.3,858.9 L817.9,860.4 L817.5,861.9 L817.1,863.4 L816.8,864.9 L816.4,866.4 L816.1,867.9 L815.7,869.4 L815.4,870.9 L815.0,872.4 L814.7,873.9 L814.4,875.4 L814.1,876.9 L813.8,878.4 L813.5,879.9 L813.2,881.4 L812.9,882.9 L812.7,884.4 L812.5,885.9 L812.3,887.4 L812.1,888.9 L811.9,890.4 L811.7,891.9 L811.5,893.4 L811.4,894.9 L811.2,896.4 L811.1,897.9 L811.0,899.4 L810.9,900.9 L810.8,902.4 L810.7,903.9 L810.6,905.4 L810.6,906.9 L810.4,908.4 L810.3,909.9 L810.1,911.4 L809.9,912.9 L809.7,914.4 L809.6,915.9 L809.6,917.4 L809.6,918.9 L809.6,920.4 L809.5,921.9 L809.5,923.4 L809.5,924.9 L809.5,926.4 L809.5,927.9 L809.5,929.4 L809.5,930.9 L809.4,932.4 L809.4,933.9 L809.4,935.4 L809.4,936.9 L809.4,938.4 L809.4,939.9 L809.4,941.4 L809.4,942.9 L809.4,944.4 L809.4,945.9 L809.4,947.4 L809.3,948.9 L809.3,950.4 L809.3,951.9 L809.3,953.4 L809.3,954.9 L809.3,956.4 L809.3,957.9 L809.3,959.4 L809.3,960.9 L809.3,962.4 L809.3,963.9 L809.3,965.4 L809.3,966.9 L809.3,968.4 L809.3,969.9 L809.3,971.4 L809.3,972.9 L809.3,974.4 L809.3,975.9 L809.3,976.3 L808.7,976.3 L808.7,975.9 L808.7,974.4 L808.7,972.9 L808.7,971.4 L808.7,969.9 L808.7,968.4 L808.7,966.9 L808.7,965.4 L808.7,963.9 L808.7,962.4 L808.7,960.9 L808.7,959.4 L808.7,957.9 L808.7,956.4 L808.7,954.9 L808.7,953.4 L808.7,951.9 L808.7,950.4 L808.7,948.9 L808.6,947.4 L808.6,945.9 L808.6,944.4 L808.6,942.9 L808.6,941.4 L808.6,939.9 L808.6,938.4 L808.6,936.9 L808.6,935.4 L808.6,933.9 L808.6,932.4 L808.5,930.9 L808.5,929.4 L808.5,927.9 L808.5,926.4 L808.5,924.9 L808.5,923.4 L808.5,921.9 L808.4,920.4 L808.4,918.9 L808.4,917.4 L808.4,915.9 L808.3,914.4 L808.1,912.9 L807.9,911.4 L807.7,909.9 L807.6,908.4 L807.4,906.9 L807.4,905.4 L807.3,903.9 L807.2,902.4 L807.1,900.9 L807.0,899.4 L806.9,897.9 L806.8,896.4 L806.6,894.9 L806.5,893.4 L806.3,891.9 L806.1,890.4 L805.9,888.9 L805.7,887.4 L805.5,885.9 L805.3,884.4 L805.1,882.9 L804.8,881.4 L804.5,879.9 L804.2,878.4 L803.9,876.9 L803.6,875.4 L803.3,873.9 L803.0,872.4 L802.6,870.9 L802.3,869.4 L801.9,867.9 L801.6,866.4 L801.2,864.9 L800.9,863.4 L800.5,861.9 L800.1,860.4 L799.7,858.9 L799.4,857.4 L799.0,855.9 L798.6,854.4 L798.3,852.9 L798.1,851.4 L797.8,849.9 L797.5,848.4 L797.1,846.9 L796.7,845.4 L796.3,843.9 L795.8,842.4 L795.3,840.9 L794.6,839.4 L793.9,837.9 L793.1,836.4 L792.2,834.9 L791.3,833.4 L790.3,831.9 L789.4,830.4 L788.6,828.9 L787.7,827.4 L786.8,825.9 L785.9,824.4 L785.0,822.9 L784.1,821.4 L783.1,819.9 L782.2,818.4 L781.2,816.9 L780.3,815.4 L779.3,813.9 L778.3,812.4 L777.2,810.9 L776.2,809.4 L775.1,807.9 L773.9,806.4 L772.7,804.9 L771.6,803.4 L770.4,801.9 L769.2,800.4 L768.1,798.9 L766.9,797.4 L765.8,795.9 L764.7,794.4 L763.6,792.9 L762.4,791.4 L761.2,789.9 L760.0,788.4 L758.8,786.9 L757.5,785.4 L756.3,783.9 L755.0,782.4 L753.7,780.9 L752.4,779.4 L751.0,777.9 L749.6,776.4 L748.2,774.9 L746.8,773.4 L745.4,771.9 L743.9,770.4 L742.4,768.9 L740.8,767.4 L739.2,765.9 L737.7,764.4 L736.0,762.9 L734.4,761.4 L733.0,759.9 L731.8,758.4 L730.8,756.9 L729.8,755.4 L729.0,753.9 L728.1,752.4 L727.3,750.9 L726.7,749.4 L726.4,747.9 L726.2,746.4 L726.0,744.9 L725.9,743.4 L725.7,741.9 L725.4,740.4 L725.1,738.9 L724.9,737.4 L724.6,735.9 L724.2,734.4 L723.9,732.9 L723.5,731.4 L722.9,729.9 L722.4,728.4 L722.0,726.9 L721.8,725.4 L721.8,723.9 L722.0,722.4 L722.2,720.9 L722.8,719.4 L723.6,717.9 L724.4,716.4 L725.6,714.9 L727.0,713.4 L728.5,711.9 L730.0,710.4 L731.6,708.9 L733.3,707.4 L735.1,705.9 L736.8,704.4 L738.6,702.9 L740.4,701.4 L742.3,699.9 L744.2,698.4 L746.1,696.9 L748.1,695.4 L750.0,693.9 L751.9,692.4 L753.9,690.9 L755.9,689.4 L758.0,687.9 L760.0,686.4 L762.1,684.9 L764.1,683.4 L766.1,681.9 L768.2,680.4 L770.3,678.9 L772.3,677.4 L774.3,675.9 L776.3,674.4 L778.2,672.9 L780.0,671.4 L781.7,669.9 L783.4,668.4 L785.0,666.9 L786.6,665.4 L788.1,663.9 L789.5,662.4 L790.9,660.9 L792.2,659.4 L793.5,657.9 L794.7,656.4 L795.8,654.9 L796.9,653.4 L797.9,651.9 L798.8,650.4 L799.7,648.9 L800.5,647.4 L801.3,645.9 L802.0,644.4 L802.6,642.9 L803.2,641.4 L803.7,639.9 L804.2,638.4 L804.6,636.9 L805.0,635.4 L805.4,633.9 L805.7,632.4 L806.0,630.9 L806.3,629.4 L806.6,627.9 L806.8,626.4 L807.0,624.9 L807.2,623.4 L807.5,621.9 L807.7,620.4 L807.9,618.9 L808.1,617.4 L808.3,615.9 L808.5,614.4 L808.6,612.9 L808.7,611.4Z" fill="#f2c572" stroke="#313131" stroke-width="1.9" stroke-linejoin="round"/><line x1="725.7" x2="892.3" y1="742.0" y2="742.0" stroke="#313131" stroke-width="1.7"/>
<path d="M1113.6,635.2 L1113.6,636.7 L1113.6,638.2 L1113.6,639.7 L1113.6,641.2 L1113.6,642.7 L1113.6,644.2 L1113.6,645.7 L1113.6,647.2 L1113.6,648.7 L1113.6,650.2 L1113.6,651.7 L1113.6,653.2 L1113.6,654.7 L1113.6,656.2 L1113.6,657.7 L1113.6,659.2 L1113.6,660.7 L1113.6,662.2 L1113.6,663.7 L1113.6,665.2 L1113.6,666.7 L1113.6,668.2 L1113.6,669.7 L1113.6,671.2 L1113.6,672.7 L1113.6,674.2 L1113.6,675.7 L1113.6,677.2 L1113.6,678.7 L1113.6,680.2 L1113.6,681.7 L1113.6,683.2 L1113.6,684.7 L1113.6,686.2 L1113.6,687.7 L1113.6,689.2 L1113.6,690.7 L1113.6,692.2 L1113.6,693.7 L1113.6,695.2 L1113.6,696.7 L1113.6,698.2 L1113.6,699.7 L1113.6,701.2 L1113.6,702.7 L1113.6,704.2 L1113.6,705.7 L1113.6,707.2 L1113.6,708.7 L1113.6,710.2 L1113.6,711.7 L1113.6,713.2 L1113.6,714.7 L1113.6,716.2 L1113.7,717.7 L1113.7,719.2 L1113.7,720.7 L1113.7,722.2 L1113.7,723.7 L1113.7,725.2 L1113.7,726.7 L1113.7,728.2 L1113.7,729.7 L1113.7,731.2 L1113.7,732.7 L1113.7,734.2 L1113.7,735.7 L1113.7,737.2 L1113.7,738.7 L1113.7,740.2 L1113.7,741.7 L1113.7,743.2 L1113.7,744.7 L1113.7,746.2 L1113.8,747.7 L1113.9,749.2 L1113.9,750.7 L1114.0,752.2 L1114.1,753.7 L1114.2,755.2 L1114.3,756.7 L1114.4,758.2 L1114.6,759.7 L1114.9,761.2 L1115.1,762.7 L1115.4,764.2 L1115.7,765.7 L1115.9,767.2 L1116.2,768.7 L1116.3,770.2 L1116.5,771.7 L1116.7,773.2 L1116.9,774.7 L1117.0,776.2 L1117.2,777.7 L1117.3,779.2 L1117.4,780.7 L1117.6,782.2 L1117.7,783.7 L1117.8,785.2 L1117.9,786.7 L1118.0,788.2 L1118.1,789.7 L1118.3,791.2 L1118.4,792.7 L1118.6,794.2 L1118.7,795.7 L1118.9,797.2 L1119.2,798.7 L1119.4,800.2 L1119.6,801.7 L1119.9,803.2 L1120.2,804.7 L1120.4,806.2 L1120.7,807.7 L1120.9,809.2 L1121.2,810.7 L1121.5,812.2 L1121.8,813.7 L1122.1,815.2 L1122.5,816.7 L1122.8,818.2 L1123.2,819.7 L1123.6,821.2 L1124.1,822.7 L1124.6,824.2 L1125.3,825.7 L1126.1,827.2 L1126.9,828.7 L1127.7,830.2 L1128.4,831.7 L1129.0,833.2 L1129.6,834.7 L1130.1,836.2 L1130.5,837.7 L1130.8,839.2 L1131.0,840.7 L1131.3,842.2 L1131.7,843.7 L1132.0,845.2 L1132.5,846.7 L1133.0,848.2 L1133.6,849.7 L1134.5,851.2 L1135.5,852.7 L1136.5,854.2 L1137.3,855.7 L1138.1,857.2 L1138.9,858.7 L1139.7,860.2 L1140.6,861.7 L1141.5,863.2 L1142.5,864.7 L1143.5,866.2 L1144.6,867.7 L1145.7,869.2 L1146.9,870.7 L1148.1,872.2 L1149.4,873.7 L1150.8,875.2 L1152.2,876.7 L1153.6,878.2 L1155.0,879.7 L1156.4,881.2 L1157.8,882.7 L1159.2,884.2 L1160.6,885.7 L1162.0,887.2 L1163.4,888.7 L1164.8,890.2 L1166.3,891.7 L1167.8,893.2 L1169.3,894.7 L1170.8,896.2 L1172.3,897.7 L1173.6,899.2 L1174.8,900.7 L1175.9,902.2 L1176.9,903.7 L1177.8,905.2 L1178.7,906.7 L1179.7,908.2 L1180.9,909.7 L1182.1,911.2 L1183.5,912.7 L1185.0,914.2 L1186.6,915.7 L1188.2,917.2 L1189.8,918.7 L1191.5,920.2 L1193.2,921.7 L1194.9,923.2 L1196.4,924.7 L1197.7,926.2 L1198.8,927.7 L1200.0,929.2 L1201.3,930.7 L1202.7,932.2 L1204.1,933.7 L1205.6,935.2 L1207.1,936.7 L1208.5,938.2 L1209.9,939.7 L1211.3,941.2 L1212.6,942.7 L1213.9,944.2 L1215.2,945.7 L1216.4,947.2 L1217.6,948.7 L1218.9,950.2 L1220.1,951.7 L1221.3,953.2 L1222.5,954.7 L1223.6,956.2 L1224.6,957.7 L1225.8,959.2 L1226.9,960.7 L1227.5,962.2 L1227.3,963.7 L1226.6,965.2 L1225.3,966.7 L1221.6,968.2 L1214.6,969.7 L1206.0,971.2 L1196.9,972.7 L1187.4,974.2 L1177.8,975.7 L1173.9,976.3 L1052.7,976.3 L1048.8,975.7 L1039.2,974.2 L1029.7,972.7 L1020.6,971.2 L1012.0,969.7 L1005.0,968.2 L1001.3,966.7 L1000.0,965.2 L999.3,963.7 L999.1,962.2 L999.7,960.7 L1000.8,959.2 L1002.0,957.7 L1003.0,956.2 L1004.1,954.7 L1005.3,953.2 L1006.5,951.7 L1007.7,950.2 L1009.0,948.7 L1010.2,947.2 L1011.4,945.7 L1012.7,944.2 L1014.0,942.7 L1015.3,941.2 L1016.7,939.7 L1018.1,938.2 L1019.5,936.7 L1021.0,935.2 L1022.5,933.7 L1023.9,932.2 L1025.3,930.7 L1026.6,929.2 L1027.8,927.7 L1028.9,926.2 L1030.2,924.7 L1031.7,923.2 L1033.4,921.7 L1035.1,920.2 L1036.8,918.7 L1038.4,917.2 L1040.0,915.7 L1041.6,914.2 L1043.1,912.7 L1044.5,911.2 L1045.7,909.7 L1046.9,908.2 L1047.9,906.7 L1048.8,905.2 L1049.7,903.7 L1050.7,902.2 L1051.8,900.7 L1053.0,899.2 L1054.3,897.7 L1055.8,896.2 L1057.3,894.7 L1058.8,893.2 L1060.3,891.7 L1061.8,890.2 L1063.2,888.7 L1064.6,887.2 L1066.0,885.7 L1067.4,884.2 L1068.8,882.7 L1070.2,881.2 L1071.6,879.7 L1073.0,878.2 L1074.4,876.7 L1075.8,875.2 L1077.2,873.7 L1078.5,872.2 L1079.7,870.7 L1080.9,869.2 L1082.0,867.7 L1083.1,866.2 L1084.1,864.7 L1085.1,863.2 L1086.0,861.7 L1086.9,860.2 L1087.7,858.7 L1088.5,857.2 L1089.3,855.7 L1090.1,854.2 L1091.1,852.7 L1092.1,851.2 L1093.0,849.7 L1093.6,848.2 L1094.1,846.7 L1094.6,845.2 L1094.9,843.7 L1095.3,842.2 L1095.6,840.7 L1095.8,839.2 L1096.1,837.7 L1096.5,836.2 L1097.0,834.7 L1097.6,833.2 L1098.2,831.7 L1098.9,830.2 L1099.7,828.7 L1100.5,827.2 L1101.3,825.7 L1102.0,824.2 L1102.5,822.7 L1103.0,821.2 L1103.4,819.7 L1103.8,818.2 L1104.1,816.7 L1104.5,815.2 L1104.8,813.7 L1105.1,812.2 L1105.4,810.7 L1105.7,809.2 L1105.9,807.7 L1106.2,806.2 L1106.4,804.7 L1106.7,803.2 L1107.0,801.7 L1107.2,800.2 L1107.4,798.7 L1107.7,797.2 L1107.9,795.7 L1108.0,794.2 L1108.2,792.7 L1108.3,791.2 L1108.5,789.7 L1108.6,788.2 L1108.7,786.7 L1108.8,785.2 L1108.9,783.7 L1109.0,782.2 L1109.2,780.7 L1109.3,779.2 L1109.4,777.7 L1109.6,776.2 L1109.7,774.7 L1109.9,773.2 L1110.1,771.7 L1110.3,770.2 L1110.4,768.7 L1110.7,767.2 L1110.9,765.7 L1111.2,764.2 L1111.5,762.7 L1111.7,761.2 L1112.0,759.7 L1112.2,758.2 L1112.3,756.7 L1112.4,755.2 L1112.5,753.7 L1112.6,752.2 L1112.7,750.7 L1112.7,749.2 L1112.8,747.7 L1112.9,746.2 L1112.9,744.7 L1112.9,743.2 L1112.9,741.7 L1112.9,740.2 L1112.9,738.7 L1112.9,737.2 L1112.9,735.7 L1112.9,734.2 L1112.9,732.7 L1112.9,731.2 L1112.9,729.7 L1112.9,728.2 L1112.9,726.7 L1112.9,725.2 L1112.9,723.7 L1112.9,722.2 L1112.9,720.7 L1112.9,719.2 L1112.9,717.7 L1113.0,716.2 L1113.0,714.7 L1113.0,713.2 L1113.0,711.7 L1113.0,710.2 L1113.0,708.7 L1113.0,707.2 L1113.0,705.7 L1113.0,704.2 L1113.0,702.7 L1113.0,701.2 L1113.0,699.7 L1113.0,698.2 L1113.0,696.7 L1113.0,695.2 L1113.0,693.7 L1113.0,692.2 L1113.0,690.7 L1113.0,689.2 L1113.0,687.7 L1113.0,686.2 L1113.0,684.7 L1113.0,683.2 L1113.0,681.7 L1113.0,680.2 L1113.0,678.7 L1113.0,677.2 L1113.0,675.7 L1113.0,674.2 L1113.0,672.7 L1113.0,671.2 L1113.0,669.7 L1113.0,668.2 L1113.0,666.7 L1113.0,665.2 L1113.0,663.7 L1113.0,662.2 L1113.0,660.7 L1113.0,659.2 L1113.0,657.7 L1113.0,656.2 L1113.0,654.7 L1113.0,653.2 L1113.0,651.7 L1113.0,650.2 L1113.0,648.7 L1113.0,647.2 L1113.0,645.7 L1113.0,644.2 L1113.0,642.7 L1113.0,641.2 L1113.0,639.7 L1113.0,638.2 L1113.0,636.7 L1113.0,635.2Z" fill="#5b9ec4" stroke="#313131" stroke-width="1.9" stroke-linejoin="round"/><line x1="1026.9" x2="1199.7" y1="928.8" y2="928.8" stroke="#313131" stroke-width="1.7"/>
<path d="M1367.0,324.3 L1367.0,325.8 L1367.0,327.3 L1367.0,328.8 L1367.0,330.3 L1367.0,331.8 L1367.0,333.3 L1367.0,334.8 L1367.0,336.3 L1367.0,337.8 L1367.0,339.3 L1367.0,340.8 L1367.0,342.3 L1367.0,343.8 L1367.0,345.3 L1367.0,346.8 L1367.0,348.3 L1367.0,349.8 L1367.0,351.3 L1367.0,352.8 L1367.0,354.3 L1367.0,355.8 L1367.0,357.3 L1367.0,358.8 L1367.0,360.3 L1367.0,361.8 L1367.0,363.3 L1367.0,364.8 L1367.0,366.3 L1367.0,367.8 L1367.0,369.3 L1367.0,370.8 L1367.0,372.3 L1367.0,373.8 L1367.0,375.3 L1367.0,376.8 L1367.0,378.3 L1367.0,379.8 L1367.0,381.3 L1367.0,382.8 L1367.0,384.3 L1367.0,385.8 L1367.0,387.3 L1367.0,388.8 L1367.0,390.3 L1367.0,391.8 L1367.1,393.3 L1367.1,394.8 L1367.1,396.3 L1367.1,397.8 L1367.1,399.3 L1367.1,400.8 L1367.1,402.3 L1367.1,403.8 L1367.1,405.3 L1367.1,406.8 L1367.1,408.3 L1367.1,409.8 L1367.1,411.3 L1367.1,412.8 L1367.1,414.3 L1367.1,415.8 L1367.2,417.3 L1367.2,418.8 L1367.3,420.3 L1367.4,421.8 L1367.6,423.3 L1367.7,424.8 L1367.8,426.3 L1367.9,427.8 L1368.0,429.3 L1368.1,430.8 L1368.2,432.3 L1368.3,433.8 L1368.3,435.3 L1368.4,436.8 L1368.5,438.3 L1368.6,439.8 L1368.7,441.3 L1368.8,442.8 L1368.9,444.3 L1369.0,445.8 L1369.2,447.3 L1369.3,448.8 L1369.5,450.3 L1369.6,451.8 L1369.8,453.3 L1369.9,454.8 L1370.1,456.3 L1370.3,457.8 L1370.4,459.3 L1370.6,460.8 L1370.8,462.3 L1371.0,463.8 L1371.1,465.3 L1371.3,466.8 L1371.5,468.3 L1371.7,469.8 L1371.9,471.3 L1372.1,472.8 L1372.4,474.3 L1372.6,475.8 L1372.9,477.3 L1373.2,478.8 L1373.5,480.3 L1373.8,481.8 L1374.1,483.3 L1374.5,484.8 L1374.8,486.3 L1375.2,487.8 L1375.5,489.3 L1375.8,490.8 L1376.2,492.3 L1376.5,493.8 L1376.9,495.3 L1377.2,496.8 L1377.6,498.3 L1378.0,499.8 L1378.3,501.3 L1378.7,502.8 L1379.0,504.3 L1379.4,505.8 L1379.7,507.3 L1380.1,508.8 L1380.5,510.3 L1380.9,511.8 L1381.2,513.3 L1381.6,514.8 L1382.0,516.3 L1382.4,517.8 L1382.8,519.3 L1383.2,520.8 L1383.6,522.3 L1384.1,523.8 L1384.5,525.3 L1384.9,526.8 L1385.3,528.3 L1385.7,529.8 L1386.2,531.3 L1386.6,532.8 L1387.1,534.3 L1387.6,535.8 L1388.0,537.3 L1388.5,538.8 L1389.0,540.3 L1389.5,541.8 L1389.9,543.3 L1390.4,544.8 L1390.9,546.3 L1391.4,547.8 L1391.9,549.3 L1392.4,550.8 L1392.9,552.3 L1393.3,553.8 L1393.8,555.3 L1394.3,556.8 L1394.8,558.3 L1395.3,559.8 L1395.8,561.3 L1396.3,562.8 L1396.8,564.3 L1397.4,565.8 L1397.9,567.3 L1398.4,568.8 L1398.9,570.3 L1399.4,571.8 L1400.0,573.3 L1400.5,574.8 L1401.1,576.3 L1401.8,577.8 L1402.4,579.3 L1403.0,580.8 L1403.7,582.3 L1404.3,583.8 L1404.8,585.3 L1405.3,586.8 L1405.7,588.3 L1406.1,589.8 L1406.4,591.3 L1406.8,592.8 L1407.1,594.3 L1407.3,595.8 L1407.5,597.3 L1407.7,598.8 L1407.9,600.3 L1408.1,601.8 L1408.3,603.3 L1408.5,604.8 L1408.7,606.3 L1408.9,607.8 L1409.1,609.3 L1409.3,610.8 L1409.5,612.3 L1409.7,613.8 L1409.9,615.3 L1410.1,616.8 L1410.3,618.3 L1410.5,619.8 L1410.7,621.3 L1410.9,622.8 L1411.0,624.3 L1411.2,625.8 L1411.4,627.3 L1411.5,628.8 L1411.6,630.3 L1411.7,631.8 L1411.7,633.3 L1411.7,634.8 L1411.7,636.3 L1411.7,637.8 L1411.7,639.3 L1411.5,640.8 L1411.3,642.3 L1411.0,643.8 L1410.7,645.3 L1410.5,646.8 L1410.2,648.3 L1409.9,649.8 L1409.6,651.3 L1409.3,652.8 L1409.0,654.3 L1408.7,655.8 L1408.4,657.3 L1408.1,658.8 L1407.8,660.3 L1407.5,661.8 L1407.2,663.3 L1406.9,664.8 L1406.6,666.3 L1406.3,667.8 L1406.1,669.3 L1405.8,670.8 L1405.5,672.3 L1405.3,673.8 L1405.1,675.3 L1404.8,676.8 L1404.6,678.3 L1404.4,679.8 L1404.2,681.3 L1404.0,682.8 L1403.8,684.3 L1403.6,685.8 L1403.4,687.3 L1403.2,688.8 L1402.9,690.3 L1402.7,691.8 L1402.5,693.3 L1402.2,694.8 L1402.0,696.3 L1401.7,697.8 L1401.4,699.3 L1401.1,700.8 L1400.8,702.3 L1400.5,703.8 L1400.1,705.3 L1399.7,706.8 L1399.3,708.3 L1398.9,709.8 L1398.4,711.3 L1398.0,712.8 L1397.6,714.3 L1397.1,715.8 L1396.7,717.3 L1396.3,718.8 L1395.8,720.3 L1395.4,721.8 L1394.9,723.3 L1394.5,724.8 L1394.0,726.3 L1393.6,727.8 L1393.1,729.3 L1392.7,730.8 L1392.2,732.3 L1391.8,733.8 L1391.3,735.3 L1390.9,736.8 L1390.4,738.3 L1390.0,739.8 L1389.5,741.3 L1389.1,742.8 L1388.6,744.3 L1388.2,745.8 L1387.8,747.3 L1387.3,748.8 L1386.8,750.3 L1386.4,751.8 L1385.9,753.3 L1385.5,754.8 L1385.0,756.3 L1384.6,757.8 L1384.2,759.3 L1383.8,760.8 L1383.5,762.3 L1383.2,763.8 L1382.8,765.3 L1382.5,766.8 L1382.2,768.3 L1382.0,769.8 L1381.7,771.3 L1381.4,772.8 L1381.1,774.3 L1380.9,775.8 L1380.6,777.3 L1380.3,778.8 L1380.1,780.3 L1379.8,781.8 L1379.6,783.3 L1379.3,784.8 L1379.1,786.3 L1378.8,787.8 L1378.6,789.3 L1378.4,790.8 L1378.1,792.3 L1377.9,793.8 L1377.7,795.3 L1377.5,796.8 L1377.3,798.3 L1377.1,799.8 L1376.9,801.3 L1376.7,802.8 L1376.5,804.3 L1376.3,805.8 L1376.1,807.3 L1375.9,808.8 L1375.7,810.3 L1375.5,811.8 L1375.3,813.3 L1375.1,814.8 L1374.9,816.3 L1374.7,817.8 L1374.5,819.3 L1374.4,820.8 L1374.2,822.3 L1374.0,823.8 L1373.9,825.3 L1373.7,826.8 L1373.5,828.3 L1373.4,829.8 L1373.2,831.3 L1373.1,832.8 L1372.9,834.3 L1372.8,835.8 L1372.6,837.3 L1372.5,838.8 L1372.3,840.3 L1372.1,841.8 L1372.0,843.3 L1371.8,844.8 L1371.7,846.3 L1371.5,847.8 L1371.4,849.3 L1371.3,850.8 L1371.2,852.3 L1371.0,853.8 L1370.9,855.3 L1370.8,856.8 L1370.7,858.3 L1370.6,859.8 L1370.5,861.3 L1370.4,862.8 L1370.4,864.3 L1370.3,865.8 L1370.2,867.3 L1370.1,868.8 L1370.0,870.3 L1369.9,871.8 L1369.8,873.3 L1369.7,874.8 L1369.6,876.3 L1369.5,877.8 L1369.4,879.3 L1369.4,880.8 L1369.3,882.3 L1369.2,883.8 L1369.1,885.3 L1369.0,886.8 L1368.9,888.3 L1368.9,889.8 L1368.8,891.3 L1368.7,892.8 L1368.6,894.3 L1368.6,895.8 L1368.5,897.3 L1368.4,898.8 L1368.4,900.3 L1368.3,901.8 L1368.3,903.3 L1368.2,904.8 L1368.2,906.3 L1368.1,907.8 L1368.1,909.3 L1368.0,910.8 L1368.0,912.3 L1367.9,913.8 L1367.9,915.3 L1367.8,916.8 L1367.7,918.3 L1367.6,919.8 L1367.5,921.3 L1367.4,922.8 L1367.4,924.3 L1367.3,925.8 L1367.3,927.3 L1367.2,928.8 L1367.2,930.3 L1367.2,931.8 L1367.2,933.3 L1367.2,934.8 L1367.1,936.3 L1367.1,937.8 L1367.1,939.3 L1367.1,940.8 L1367.1,942.3 L1367.1,943.8 L1367.1,945.3 L1367.1,946.8 L1367.1,948.3 L1367.1,949.8 L1367.1,951.3 L1367.0,952.8 L1367.0,954.3 L1367.0,955.8 L1367.0,957.3 L1367.0,958.8 L1367.0,960.3 L1367.0,961.8 L1367.0,963.3 L1367.0,964.8 L1367.0,966.3 L1367.0,967.8 L1367.0,969.3 L1367.0,970.8 L1367.0,972.3 L1367.0,973.8 L1367.0,975.3 L1367.0,975.5 L1366.4,975.5 L1366.4,975.3 L1366.4,973.8 L1366.4,972.3 L1366.4,970.8 L1366.4,969.3 L1366.4,967.8 L1366.4,966.3 L1366.4,964.8 L1366.4,963.3 L1366.4,961.8 L1366.4,960.3 L1366.4,958.8 L1366.4,957.3 L1366.4,955.8 L1366.4,954.3 L1366.4,952.8 L1366.3,951.3 L1366.3,949.8 L1366.3,948.3 L1366.3,946.8 L1366.3,945.3 L1366.3,943.8 L1366.3,942.3 L1366.3,940.8 L1366.3,939.3 L1366.3,937.8 L1366.3,936.3 L1366.2,934.8 L1366.2,933.3 L1366.2,931.8 L1366.2,930.3 L1366.2,928.8 L1366.1,927.3 L1366.1,925.8 L1366.0,924.3 L1366.0,922.8 L1365.9,921.3 L1365.8,919.8 L1365.7,918.3 L1365.6,916.8 L1365.5,915.3 L1365.5,913.8 L1365.4,912.3 L1365.4,910.8 L1365.3,909.3 L1365.3,907.8 L1365.2,906.3 L1365.2,904.8 L1365.1,903.3 L1365.1,901.8 L1365.0,900.3 L1365.0,898.8 L1364.9,897.3 L1364.8,895.8 L1364.8,894.3 L1364.7,892.8 L1364.6,891.3 L1364.5,889.8 L1364.5,888.3 L1364.4,886.8 L1364.3,885.3 L1364.2,883.8 L1364.1,882.3 L1364.0,880.8 L1364.0,879.3 L1363.9,877.8 L1363.8,876.3 L1363.7,874.8 L1363.6,873.3 L1363.5,871.8 L1363.4,870.3 L1363.3,868.8 L1363.2,867.3 L1363.1,865.8 L1363.0,864.3 L1363.0,862.8 L1362.9,861.3 L1362.8,859.8 L1362.7,858.3 L1362.6,856.8 L1362.5,855.3 L1362.4,853.8 L1362.2,852.3 L1362.1,850.8 L1362.0,849.3 L1361.9,847.8 L1361.7,846.3 L1361.6,844.8 L1361.4,843.3 L1361.3,841.8 L1361.1,840.3 L1360.9,838.8 L1360.8,837.3 L1360.6,835.8 L1360.5,834.3 L1360.3,832.8 L1360.2,831.3 L1360.0,829.8 L1359.9,828.3 L1359.7,826.8 L1359.5,825.3 L1359.4,823.8 L1359.2,822.3 L1359.0,820.8 L1358.9,819.3 L1358.7,817.8 L1358.5,816.3 L1358.3,814.8 L1358.1,813.3 L1357.9,811.8 L1357.7,810.3 L1357.5,808.8 L1357.3,807.3 L1357.1,805.8 L1356.9,804.3 L1356.7,802.8 L1356.5,801.3 L1356.3,799.8 L1356.1,798.3 L1355.9,796.8 L1355.7,795.3 L1355.5,793.8 L1355.3,792.3 L1355.0,790.8 L1354.8,789.3 L1354.6,787.8 L1354.3,786.3 L1354.1,784.8 L1353.8,783.3 L1353.6,781.8 L1353.3,780.3 L1353.1,778.8 L1352.8,777.3 L1352.5,775.8 L1352.3,774.3 L1352.0,772.8 L1351.7,771.3 L1351.4,769.8 L1351.2,768.3 L1350.9,766.8 L1350.6,765.3 L1350.2,763.8 L1349.9,762.3 L1349.6,760.8 L1349.2,759.3 L1348.8,757.8 L1348.4,756.3 L1347.9,754.8 L1347.5,753.3 L1347.0,751.8 L1346.6,750.3 L1346.1,748.8 L1345.6,747.3 L1345.2,745.8 L1344.8,744.3 L1344.3,742.8 L1343.9,741.3 L1343.4,739.8 L1343.0,738.3 L1342.5,736.8 L1342.1,735.3 L1341.6,733.8 L1341.2,732.3 L1340.7,730.8 L1340.3,729.3 L1339.8,727.8 L1339.4,726.3 L1338.9,724.8 L1338.5,723.3 L1338.0,721.8 L1337.6,720.3 L1337.1,718.8 L1336.7,717.3 L1336.3,715.8 L1335.8,714.3 L1335.4,712.8 L1335.0,711.3 L1334.5,709.8 L1334.1,708.3 L1333.7,706.8 L1333.3,705.3 L1332.9,703.8 L1332.6,702.3 L1332.3,700.8 L1332.0,699.3 L1331.7,697.8 L1331.4,696.3 L1331.2,694.8 L1330.9,693.3 L1330.7,691.8 L1330.5,690.3 L1330.2,688.8 L1330.0,687.3 L1329.8,685.8 L1329.6,684.3 L1329.4,682.8 L1329.2,681.3 L1329.0,679.8 L1328.8,678.3 L1328.6,676.8 L1328.3,675.3 L1328.1,673.8 L1327.9,672.3 L1327.6,670.8 L1327.3,669.3 L1327.1,667.8 L1326.8,666.3 L1326.5,664.8 L1326.2,663.3 L1325.9,661.8 L1325.6,660.3 L1325.3,658.8 L1325.0,657.3 L1324.7,655.8 L1324.4,654.3 L1324.1,652.8 L1323.8,651.3 L1323.5,649.8 L1323.2,648.3 L1322.9,646.8 L1322.7,645.3 L1322.4,643.8 L1322.1,642.3 L1321.9,640.8 L1321.7,639.3 L1321.7,637.8 L1321.7,636.3 L1321.7,634.8 L1321.7,633.3 L1321.7,631.8 L1321.8,630.3 L1321.9,628.8 L1322.0,627.3 L1322.2,625.8 L1322.4,624.3 L1322.5,622.8 L1322.7,621.3 L1322.9,619.8 L1323.1,618.3 L1323.3,616.8 L1323.5,615.3 L1323.7,613.8 L1323.9,612.3 L1324.1,610.8 L1324.3,609.3 L1324.5,607.8 L1324.7,606.3 L1324.9,604.8 L1325.1,603.3 L1325.3,601.8 L1325.5,600.3 L1325.7,598.8 L1325.9,597.3 L1326.1,595.8 L1326.3,594.3 L1326.6,592.8 L1327.0,591.3 L1327.3,589.8 L1327.7,588.3 L1328.1,586.8 L1328.6,585.3 L1329.1,583.8 L1329.7,582.3 L1330.4,580.8 L1331.0,579.3 L1331.6,577.8 L1332.3,576.3 L1332.9,574.8 L1333.4,573.3 L1334.0,571.8 L1334.5,570.3 L1335.0,568.8 L1335.5,567.3 L1336.0,565.8 L1336.6,564.3 L1337.1,562.8 L1337.6,561.3 L1338.1,559.8 L1338.6,558.3 L1339.1,556.8 L1339.6,555.3 L1340.1,553.8 L1340.5,552.3 L1341.0,550.8 L1341.5,549.3 L1342.0,547.8 L1342.5,546.3 L1343.0,544.8 L1343.5,543.3 L1343.9,541.8 L1344.4,540.3 L1344.9,538.8 L1345.4,537.3 L1345.8,535.8 L1346.3,534.3 L1346.8,532.8 L1347.2,531.3 L1347.7,529.8 L1348.1,528.3 L1348.5,526.8 L1348.9,525.3 L1349.3,523.8 L1349.8,522.3 L1350.2,520.8 L1350.6,519.3 L1351.0,517.8 L1351.4,516.3 L1351.8,514.8 L1352.2,513.3 L1352.5,511.8 L1352.9,510.3 L1353.3,508.8 L1353.7,507.3 L1354.0,505.8 L1354.4,504.3 L1354.7,502.8 L1355.1,501.3 L1355.4,499.8 L1355.8,498.3 L1356.2,496.8 L1356.5,495.3 L1356.9,493.8 L1357.2,492.3 L1357.6,490.8 L1357.9,489.3 L1358.2,487.8 L1358.6,486.3 L1358.9,484.8 L1359.3,483.3 L1359.6,481.8 L1359.9,480.3 L1360.2,478.8 L1360.5,477.3 L1360.8,475.8 L1361.0,474.3 L1361.3,472.8 L1361.5,471.3 L1361.7,469.8 L1361.9,468.3 L1362.1,466.8 L1362.3,465.3 L1362.4,463.8 L1362.6,462.3 L1362.8,460.8 L1363.0,459.3 L1363.1,457.8 L1363.3,456.3 L1363.5,454.8 L1363.6,453.3 L1363.8,451.8 L1363.9,450.3 L1364.1,448.8 L1364.2,447.3 L1364.4,445.8 L1364.5,444.3 L1364.6,442.8 L1364.7,441.3 L1364.8,439.8 L1364.9,438.3 L1365.0,436.8 L1365.1,435.3 L1365.1,433.8 L1365.2,432.3 L1365.3,430.8 L1365.4,429.3 L1365.5,427.8 L1365.6,426.3 L1365.7,424.8 L1365.8,423.3 L1366.0,421.8 L1366.1,420.3 L1366.2,418.8 L1366.2,417.3 L1366.3,415.8 L1366.3,414.3 L1366.3,412.8 L1366.3,411.3 L1366.3,409.8 L1366.3,408.3 L1366.3,406.8 L1366.3,405.3 L1366.3,403.8 L1366.3,402.3 L1366.3,400.8 L1366.3,399.3 L1366.3,397.8 L1366.3,396.3 L1366.3,394.8 L1366.3,393.3 L1366.4,391.8 L1366.4,390.3 L1366.4,388.8 L1366.4,387.3 L1366.4,385.8 L1366.4,384.3 L1366.4,382.8 L1366.4,381.3 L1366.4,379.8 L1366.4,378.3 L1366.4,376.8 L1366.4,375.3 L1366.4,373.8 L1366.4,372.3 L1366.4,370.8 L1366.4,369.3 L1366.4,367.8 L1366.4,366.3 L1366.4,364.8 L1366.4,363.3 L1366.4,361.8 L1366.4,360.3 L1366.4,358.8 L1366.4,357.3 L1366.4,355.8 L1366.4,354.3 L1366.4,352.8 L1366.4,351.3 L1366.4,349.8 L1366.4,348.3 L1366.4,346.8 L1366.4,345.3 L1366.4,343.8 L1366.4,342.3 L1366.4,340.8 L1366.4,339.3 L1366.4,337.8 L1366.4,336.3 L1366.4,334.8 L1366.4,333.3 L1366.4,331.8 L1366.4,330.3 L1366.4,328.8 L1366.4,327.3 L1366.4,325.8 L1366.4,324.3Z" fill="#679f65" stroke="#313131" stroke-width="1.9" stroke-linejoin="round"/><line x1="1322.8" x2="1410.6" y1="646.0" y2="646.0" stroke="#313131" stroke-width="1.7"/>
<path d="M1619.9,45.5 L1619.9,47.0 L1619.9,48.5 L1619.9,50.0 L1619.9,51.5 L1619.9,53.0 L1619.9,54.5 L1619.9,56.0 L1619.9,57.5 L1619.9,59.0 L1619.9,60.5 L1619.9,62.0 L1619.9,63.5 L1619.9,65.0 L1619.9,66.5 L1619.9,68.0 L1619.9,69.5 L1619.9,71.0 L1619.9,72.5 L1619.9,74.0 L1619.9,75.5 L1619.9,77.0 L1619.9,78.5 L1619.9,80.0 L1619.9,81.5 L1619.9,83.0 L1619.9,84.5 L1619.9,86.0 L1619.9,87.5 L1619.9,89.0 L1619.9,90.5 L1619.9,92.0 L1619.9,93.5 L1619.9,95.0 L1619.9,96.5 L1619.9,98.0 L1619.9,99.5 L1619.9,101.0 L1619.9,102.5 L1619.9,104.0 L1619.9,105.5 L1619.9,107.0 L1619.9,108.5 L1619.9,110.0 L1619.9,111.5 L1619.9,113.0 L1619.9,114.5 L1619.9,116.0 L1619.9,117.5 L1619.9,119.0 L1619.9,120.5 L1619.9,122.0 L1619.9,123.5 L1619.9,125.0 L1619.9,126.5 L1619.9,128.0 L1619.9,129.5 L1619.9,131.0 L1619.9,132.5 L1619.9,134.0 L1619.9,135.5 L1620.0,137.0 L1620.0,138.5 L1620.0,140.0 L1620.0,141.5 L1620.0,143.0 L1620.0,144.5 L1620.0,146.0 L1620.0,147.5 L1620.0,149.0 L1620.0,150.5 L1620.0,152.0 L1620.0,153.5 L1620.0,155.0 L1620.0,156.5 L1620.0,158.0 L1620.0,159.5 L1620.0,161.0 L1620.0,162.5 L1620.0,164.0 L1620.0,165.5 L1620.1,167.0 L1620.1,168.5 L1620.2,170.0 L1620.3,171.5 L1620.4,173.0 L1620.6,174.5 L1620.7,176.0 L1620.8,177.5 L1620.9,179.0 L1621.0,180.5 L1621.1,182.0 L1621.2,183.5 L1621.3,185.0 L1621.5,186.5 L1621.6,188.0 L1621.7,189.5 L1621.8,191.0 L1622.0,192.5 L1622.1,194.0 L1622.2,195.5 L1622.4,197.0 L1622.5,198.5 L1622.7,200.0 L1622.8,201.5 L1623.0,203.0 L1623.1,204.5 L1623.3,206.0 L1623.5,207.5 L1623.6,209.0 L1623.8,210.5 L1623.9,212.0 L1624.1,213.5 L1624.3,215.0 L1624.5,216.5 L1624.6,218.0 L1624.8,219.5 L1625.0,221.0 L1625.2,222.5 L1625.3,224.0 L1625.5,225.5 L1625.7,227.0 L1625.9,228.5 L1626.1,230.0 L1626.2,231.5 L1626.4,233.0 L1626.6,234.5 L1626.8,236.0 L1627.0,237.5 L1627.3,239.0 L1627.5,240.5 L1627.8,242.0 L1628.0,243.5 L1628.3,245.0 L1628.6,246.5 L1628.9,248.0 L1629.2,249.5 L1629.5,251.0 L1629.8,252.5 L1630.1,254.0 L1630.4,255.5 L1630.7,257.0 L1631.0,258.5 L1631.4,260.0 L1631.7,261.5 L1632.0,263.0 L1632.3,264.5 L1632.7,266.0 L1633.0,267.5 L1633.3,269.0 L1633.7,270.5 L1634.0,272.0 L1634.3,273.5 L1634.7,275.0 L1635.0,276.5 L1635.4,278.0 L1635.7,279.5 L1636.1,281.0 L1636.5,282.5 L1636.9,284.0 L1637.3,285.5 L1637.7,287.0 L1638.2,288.5 L1638.6,290.0 L1639.1,291.5 L1639.6,293.0 L1640.1,294.5 L1640.6,296.0 L1641.1,297.5 L1641.6,299.0 L1642.1,300.5 L1642.6,302.0 L1643.1,303.5 L1643.6,305.0 L1644.1,306.5 L1644.7,308.0 L1645.2,309.5 L1645.8,311.0 L1646.4,312.5 L1647.0,314.0 L1647.6,315.5 L1648.3,317.0 L1648.9,318.5 L1649.6,320.0 L1650.2,321.5 L1650.9,323.0 L1651.5,324.5 L1652.2,326.0 L1652.8,327.5 L1653.4,329.0 L1654.0,330.5 L1654.6,332.0 L1655.2,333.5 L1655.8,335.0 L1656.4,336.5 L1657.1,338.0 L1657.7,339.5 L1658.3,341.0 L1659.0,342.5 L1659.7,344.0 L1660.3,345.5 L1660.9,347.0 L1661.5,348.5 L1662.1,350.0 L1662.6,351.5 L1663.1,353.0 L1663.7,354.5 L1664.2,356.0 L1664.7,357.5 L1665.2,359.0 L1665.7,360.5 L1666.1,362.0 L1666.6,363.5 L1667.1,365.0 L1667.6,366.5 L1668.1,368.0 L1668.6,369.5 L1669.1,371.0 L1669.5,372.5 L1669.9,374.0 L1670.2,375.5 L1670.4,377.0 L1670.6,378.5 L1670.8,380.0 L1671.0,381.5 L1671.1,383.0 L1671.3,384.5 L1671.5,386.0 L1671.8,387.5 L1672.0,389.0 L1672.2,390.5 L1672.4,392.0 L1672.6,393.5 L1672.8,395.0 L1673.1,396.5 L1673.3,398.0 L1673.5,399.5 L1673.8,401.0 L1674.1,402.5 L1674.3,404.0 L1674.5,405.5 L1674.5,407.0 L1674.4,408.5 L1674.1,410.0 L1673.8,411.5 L1673.5,413.0 L1673.1,414.5 L1672.7,416.0 L1672.2,417.5 L1671.8,419.0 L1671.4,420.5 L1671.0,422.0 L1670.7,423.5 L1670.3,425.0 L1669.9,426.5 L1669.5,428.0 L1669.1,429.5 L1668.7,431.0 L1668.2,432.5 L1667.7,434.0 L1667.1,435.5 L1666.5,437.0 L1666.0,438.5 L1665.3,440.0 L1664.7,441.5 L1664.0,443.0 L1663.4,444.5 L1662.6,446.0 L1661.9,447.5 L1661.2,449.0 L1660.6,450.5 L1659.9,452.0 L1659.3,453.5 L1658.7,455.0 L1658.0,456.5 L1657.4,458.0 L1656.8,459.5 L1656.1,461.0 L1655.4,462.5 L1654.7,464.0 L1654.1,465.5 L1653.4,467.0 L1652.7,468.5 L1652.0,470.0 L1651.3,471.5 L1650.6,473.0 L1650.0,474.5 L1649.3,476.0 L1648.6,477.5 L1648.0,479.0 L1647.3,480.5 L1646.6,482.0 L1645.9,483.5 L1645.2,485.0 L1644.5,486.5 L1643.8,488.0 L1643.1,489.5 L1642.5,491.0 L1641.8,492.5 L1641.1,494.0 L1640.5,495.5 L1639.9,497.0 L1639.2,498.5 L1638.6,500.0 L1638.0,501.5 L1637.5,503.0 L1636.9,504.5 L1636.4,506.0 L1635.9,507.5 L1635.4,509.0 L1635.0,510.5 L1634.5,512.0 L1634.1,513.5 L1633.6,515.0 L1633.2,516.5 L1632.8,518.0 L1632.3,519.5 L1631.9,521.0 L1631.4,522.5 L1631.0,524.0 L1630.6,525.5 L1630.1,527.0 L1629.7,528.5 L1629.3,530.0 L1628.9,531.5 L1628.6,533.0 L1628.2,534.5 L1627.9,536.0 L1627.6,537.5 L1627.3,539.0 L1627.0,540.5 L1626.8,542.0 L1626.5,543.5 L1626.2,545.0 L1626.0,546.5 L1625.7,548.0 L1625.5,549.5 L1625.2,551.0 L1625.0,552.5 L1624.7,554.0 L1624.5,555.5 L1624.2,557.0 L1624.0,558.5 L1623.8,560.0 L1623.6,561.5 L1623.4,563.0 L1623.2,564.5 L1623.0,566.0 L1622.8,567.5 L1622.7,569.0 L1622.5,570.5 L1622.4,572.0 L1622.2,573.5 L1622.1,575.0 L1622.0,576.5 L1621.8,578.0 L1621.7,579.5 L1621.6,581.0 L1621.5,582.5 L1621.4,584.0 L1621.3,585.5 L1621.3,587.0 L1621.2,588.5 L1621.1,590.0 L1621.0,591.5 L1620.9,593.0 L1620.8,594.5 L1620.7,596.0 L1620.6,597.5 L1620.5,599.0 L1620.4,600.5 L1620.3,602.0 L1620.2,603.5 L1620.2,605.0 L1620.1,606.5 L1620.1,608.0 L1620.1,609.5 L1620.1,611.0 L1620.1,612.5 L1620.1,614.0 L1620.1,615.5 L1620.0,617.0 L1620.0,618.5 L1620.0,620.0 L1620.0,621.5 L1620.0,623.0 L1620.0,624.5 L1620.0,626.0 L1620.0,627.5 L1620.0,629.0 L1620.0,630.5 L1620.0,632.0 L1620.0,633.5 L1620.0,635.0 L1620.0,636.5 L1620.0,638.0 L1620.0,639.5 L1619.9,641.0 L1619.9,642.5 L1619.9,644.0 L1619.9,645.5 L1619.9,647.0 L1619.9,648.5 L1619.9,650.0 L1619.9,651.5 L1619.9,653.0 L1619.9,654.5 L1619.9,656.0 L1619.9,657.5 L1619.9,659.0 L1619.9,660.5 L1619.9,662.0 L1619.9,663.5 L1619.9,665.0 L1619.9,666.5 L1619.9,668.0 L1619.9,669.5 L1619.9,671.0 L1619.9,672.5 L1619.9,674.0 L1619.9,675.5 L1619.9,677.0 L1619.9,678.5 L1619.9,679.8 L1619.3,679.8 L1619.3,678.5 L1619.3,677.0 L1619.3,675.5 L1619.3,674.0 L1619.3,672.5 L1619.3,671.0 L1619.3,669.5 L1619.3,668.0 L1619.3,666.5 L1619.3,665.0 L1619.3,663.5 L1619.3,662.0 L1619.3,660.5 L1619.3,659.0 L1619.3,657.5 L1619.3,656.0 L1619.3,654.5 L1619.3,653.0 L1619.3,651.5 L1619.3,650.0 L1619.3,648.5 L1619.3,647.0 L1619.3,645.5 L1619.3,644.0 L1619.3,642.5 L1619.3,641.0 L1619.2,639.5 L1619.2,638.0 L1619.2,636.5 L1619.2,635.0 L1619.2,633.5 L1619.2,632.0 L1619.2,630.5 L1619.2,629.0 L1619.2,627.5 L1619.2,626.0 L1619.2,624.5 L1619.2,623.0 L1619.2,621.5 L1619.2,620.0 L1619.2,618.5 L1619.2,617.0 L1619.1,615.5 L1619.1,614.0 L1619.1,612.5 L1619.1,611.0 L1619.1,609.5 L1619.1,608.0 L1619.1,606.5 L1619.0,605.0 L1619.0,603.5 L1618.9,602.0 L1618.8,600.5 L1618.7,599.0 L1618.6,597.5 L1618.5,596.0 L1618.4,594.5 L1618.3,593.0 L1618.2,591.5 L1618.1,590.0 L1618.0,588.5 L1617.9,587.0 L1617.9,585.5 L1617.8,584.0 L1617.7,582.5 L1617.6,581.0 L1617.5,579.5 L1617.4,578.0 L1617.2,576.5 L1617.1,575.0 L1617.0,573.5 L1616.8,572.0 L1616.7,570.5 L1616.5,569.0 L1616.4,567.5 L1616.2,566.0 L1616.0,564.5 L1615.8,563.0 L1615.6,561.5 L1615.4,560.0 L1615.2,558.5 L1615.0,557.0 L1614.7,555.5 L1614.5,554.0 L1614.2,552.5 L1614.0,551.0 L1613.7,549.5 L1613.5,548.0 L1613.2,546.5 L1613.0,545.0 L1612.7,543.5 L1612.4,542.0 L1612.2,540.5 L1611.9,539.0 L1611.6,537.5 L1611.3,536.0 L1611.0,534.5 L1610.6,533.0 L1610.3,531.5 L1609.9,530.0 L1609.5,528.5 L1609.1,527.0 L1608.6,525.5 L1608.2,524.0 L1607.8,522.5 L1607.3,521.0 L1606.9,519.5 L1606.4,518.0 L1606.0,516.5 L1605.6,515.0 L1605.1,513.5 L1604.7,512.0 L1604.2,510.5 L1603.8,509.0 L1603.3,507.5 L1602.8,506.0 L1602.3,504.5 L1601.7,503.0 L1601.2,501.5 L1600.6,500.0 L1600.0,498.5 L1599.3,497.0 L1598.7,495.5 L1598.1,494.0 L1597.4,492.5 L1596.7,491.0 L1596.1,489.5 L1595.4,488.0 L1594.7,486.5 L1594.0,485.0 L1593.3,483.5 L1592.6,482.0 L1591.9,480.5 L1591.2,479.0 L1590.6,477.5 L1589.9,476.0 L1589.2,474.5 L1588.6,473.0 L1587.9,471.5 L1587.2,470.0 L1586.5,468.5 L1585.8,467.0 L1585.1,465.5 L1584.5,464.0 L1583.8,462.5 L1583.1,461.0 L1582.4,459.5 L1581.8,458.0 L1581.2,456.5 L1580.5,455.0 L1579.9,453.5 L1579.3,452.0 L1578.6,450.5 L1578.0,449.0 L1577.3,447.5 L1576.6,446.0 L1575.8,444.5 L1575.2,443.0 L1574.5,441.5 L1573.8,440.0 L1573.2,438.5 L1572.7,437.0 L1572.1,435.5 L1571.5,434.0 L1571.0,432.5 L1570.5,431.0 L1570.1,429.5 L1569.7,428.0 L1569.3,426.5 L1568.9,425.0 L1568.5,423.5 L1568.2,422.0 L1567.8,420.5 L1567.4,419.0 L1567.0,417.5 L1566.5,416.0 L1566.1,414.5 L1565.7,413.0 L1565.4,411.5 L1565.1,410.0 L1564.8,408.5 L1564.7,407.0 L1564.7,405.5 L1564.9,404.0 L1565.1,402.5 L1565.4,401.0 L1565.7,399.5 L1565.9,398.0 L1566.1,396.5 L1566.4,395.0 L1566.6,393.5 L1566.8,392.0 L1567.0,390.5 L1567.2,389.0 L1567.4,387.5 L1567.7,386.0 L1567.9,384.5 L1568.1,383.0 L1568.2,381.5 L1568.4,380.0 L1568.6,378.5 L1568.8,377.0 L1569.0,375.5 L1569.3,374.0 L1569.7,372.5 L1570.1,371.0 L1570.6,369.5 L1571.1,368.0 L1571.6,366.5 L1572.1,365.0 L1572.6,363.5 L1573.1,362.0 L1573.5,360.5 L1574.0,359.0 L1574.5,357.5 L1575.0,356.0 L1575.5,354.5 L1576.1,353.0 L1576.6,351.5 L1577.1,350.0 L1577.7,348.5 L1578.3,347.0 L1578.9,345.5 L1579.5,344.0 L1580.2,342.5 L1580.9,341.0 L1581.5,339.5 L1582.1,338.0 L1582.8,336.5 L1583.4,335.0 L1584.0,333.5 L1584.6,332.0 L1585.2,330.5 L1585.8,329.0 L1586.4,327.5 L1587.0,326.0 L1587.7,324.5 L1588.3,323.0 L1589.0,321.5 L1589.6,320.0 L1590.3,318.5 L1590.9,317.0 L1591.6,315.5 L1592.2,314.0 L1592.8,312.5 L1593.4,311.0 L1594.0,309.5 L1594.5,308.0 L1595.1,306.5 L1595.6,305.0 L1596.1,303.5 L1596.6,302.0 L1597.1,300.5 L1597.6,299.0 L1598.1,297.5 L1598.6,296.0 L1599.1,294.5 L1599.6,293.0 L1600.1,291.5 L1600.6,290.0 L1601.0,288.5 L1601.5,287.0 L1601.9,285.5 L1602.3,284.0 L1602.7,282.5 L1603.1,281.0 L1603.5,279.5 L1603.8,278.0 L1604.2,276.5 L1604.5,275.0 L1604.9,273.5 L1605.2,272.0 L1605.5,270.5 L1605.9,269.0 L1606.2,267.5 L1606.5,266.0 L1606.9,264.5 L1607.2,263.0 L1607.5,261.5 L1607.8,260.0 L1608.2,258.5 L1608.5,257.0 L1608.8,255.5 L1609.1,254.0 L1609.4,252.5 L1609.7,251.0 L1610.0,249.5 L1610.3,248.0 L1610.6,246.5 L1610.9,245.0 L1611.2,243.5 L1611.4,242.0 L1611.7,240.5 L1611.9,239.0 L1612.2,237.5 L1612.4,236.0 L1612.6,234.5 L1612.8,233.0 L1613.0,231.5 L1613.1,230.0 L1613.3,228.5 L1613.5,227.0 L1613.7,225.5 L1613.9,224.0 L1614.0,222.5 L1614.2,221.0 L1614.4,219.5 L1614.6,218.0 L1614.7,216.5 L1614.9,215.0 L1615.1,213.5 L1615.3,212.0 L1615.4,210.5 L1615.6,209.0 L1615.7,207.5 L1615.9,206.0 L1616.1,204.5 L1616.2,203.0 L1616.4,201.5 L1616.5,200.0 L1616.7,198.5 L1616.8,197.0 L1617.0,195.5 L1617.1,194.0 L1617.2,192.5 L1617.4,191.0 L1617.5,189.5 L1617.6,188.0 L1617.7,186.5 L1617.9,185.0 L1618.0,183.5 L1618.1,182.0 L1618.2,180.5 L1618.3,179.0 L1618.4,177.5 L1618.5,176.0 L1618.6,174.5 L1618.8,173.0 L1618.9,171.5 L1619.0,170.0 L1619.1,168.5 L1619.1,167.0 L1619.2,165.5 L1619.2,164.0 L1619.2,162.5 L1619.2,161.0 L1619.2,159.5 L1619.2,158.0 L1619.2,156.5 L1619.2,155.0 L1619.2,153.5 L1619.2,152.0 L1619.2,150.5 L1619.2,149.0 L1619.2,147.5 L1619.2,146.0 L1619.2,144.5 L1619.2,143.0 L1619.2,141.5 L1619.2,140.0 L1619.2,138.5 L1619.2,137.0 L1619.3,135.5 L1619.3,134.0 L1619.3,132.5 L1619.3,131.0 L1619.3,129.5 L1619.3,128.0 L1619.3,126.5 L1619.3,125.0 L1619.3,123.5 L1619.3,122.0 L1619.3,120.5 L1619.3,119.0 L1619.3,117.5 L1619.3,116.0 L1619.3,114.5 L1619.3,113.0 L1619.3,111.5 L1619.3,110.0 L1619.3,108.5 L1619.3,107.0 L1619.3,105.5 L1619.3,104.0 L1619.3,102.5 L1619.3,101.0 L1619.3,99.5 L1619.3,98.0 L1619.3,96.5 L1619.3,95.0 L1619.3,93.5 L1619.3,92.0 L1619.3,90.5 L1619.3,89.0 L1619.3,87.5 L1619.3,86.0 L1619.3,84.5 L1619.3,83.0 L1619.3,81.5 L1619.3,80.0 L1619.3,78.5 L1619.3,77.0 L1619.3,75.5 L1619.3,74.0 L1619.3,72.5 L1619.3,71.0 L1619.3,69.5 L1619.3,68.0 L1619.3,66.5 L1619.3,65.0 L1619.3,63.5 L1619.3,62.0 L1619.3,60.5 L1619.3,59.0 L1619.3,57.5 L1619.3,56.0 L1619.3,54.5 L1619.3,53.0 L1619.3,51.5 L1619.3,50.0 L1619.3,48.5 L1619.3,47.0 L1619.3,45.5Z" fill="#a84286" stroke="#313131" stroke-width="1.9" stroke-linejoin="round"/><line x1="1566.0" x2="1673.2" y1="397.6" y2="397.6" stroke="#313131" stroke-width="1.7"/>
<rect x="114.8" y="13.55" width="810.1" height="1085.05" fill="none" stroke="#000" stroke-width="1.8"/>
<line x1="114.8" x2="924.9" y1="981.0" y2="981.0" stroke="#000" stroke-width="2"/>
<rect x="961.5" y="13.55" width="810.0" height="1085.05" fill="none" stroke="#000" stroke-width="1.8"/>
<line x1="961.5" x2="1771.5" y1="981.0" y2="981.0" stroke="#000" stroke-width="2"/>
<path d="M190.07,987.70C190.94,986.36 190.98,986.69 193.03,986.22C195.08,985.74 195.87,986.16 197.77,985.92C199.66,985.69 198.56,985.17 200.14,985.33C201.71,985.49 201.79,985.25 203.69,986.51C205.58,987.78 205.19,987.70 207.24,990.07C209.29,992.44 209.18,992.55 211.39,995.40C213.60,998.24 213.64,998.52 215.53,1000.73C217.43,1002.94 216.60,1002.11 218.49,1003.69C220.39,1005.27 219.48,1005.23 222.64,1006.65C225.80,1008.07 225.92,1007.75 230.34,1009.02C234.76,1010.28 234.48,1010.28 239.22,1011.39C243.96,1012.49 243.68,1012.29 248.10,1013.16C252.53,1014.03 252.33,1013.62 255.80,1014.64C259.28,1015.67 258.45,1015.43 261.13,1017.01C263.82,1018.59 263.34,1018.67 265.87,1020.57C268.40,1022.46 268.55,1022.30 270.61,1024.12C272.66,1025.94 272.38,1025.72 273.57,1027.38C274.75,1029.03 275.21,1028.92 275.05,1030.34C274.89,1031.76 274.32,1031.84 272.98,1032.71C271.63,1033.57 271.12,1033.04 270.02,1033.59C268.91,1034.15 269.78,1034.94 268.83,1034.78C267.88,1034.62 267.73,1034.27 266.46,1033.00C265.20,1031.74 265.36,1031.62 264.09,1030.04C262.83,1028.46 264.41,1027.55 261.72,1027.08C259.04,1026.61 259.24,1027.40 254.03,1028.26C248.81,1029.13 248.50,1029.63 242.18,1030.34C235.86,1031.05 236.65,1030.69 230.34,1030.93C224.02,1031.17 224.34,1031.07 218.49,1031.23C212.65,1031.38 212.37,1030.89 208.43,1031.52C204.48,1032.15 206.06,1032.49 203.69,1033.59C201.32,1034.70 201.44,1035.59 199.54,1035.67C197.65,1035.75 197.92,1035.15 196.58,1033.89C195.24,1032.63 194.98,1032.67 194.51,1030.93C194.04,1029.19 194.41,1029.27 194.81,1027.38C195.20,1025.48 195.59,1025.40 195.99,1023.82C196.38,1022.24 196.84,1023.03 196.29,1021.45C195.73,1019.88 195.02,1019.95 193.92,1017.90C192.81,1015.85 192.85,1016.28 192.14,1013.76C191.43,1011.23 191.73,1011.43 191.25,1008.43C190.78,1005.43 190.68,1005.50 190.36,1002.50C190.05,999.50 189.91,999.86 190.07,997.17C190.23,994.49 191.03,994.02 190.96,992.44C190.88,990.86 190.01,992.52 189.77,991.25C189.53,989.99 189.20,989.04 190.07,987.70Z" fill="#000"/><path d="M382.23,1009.80C382.48,1009.23 384.37,1007.30 385.72,1006.58C387.06,1005.86 391.76,1004.32 393.76,1003.63C395.76,1002.94 401.68,1001.47 402.87,1000.68C404.06,999.90 403.63,997.50 403.94,996.93C404.25,996.37 405.20,996.36 405.55,995.86C405.89,995.36 406.45,993.15 406.89,992.65C407.32,992.15 408.64,991.73 409.30,991.57C409.95,991.42 411.76,991.18 412.51,991.31C413.26,991.43 414.98,992.27 415.73,992.65C416.48,993.02 418.32,994.08 418.94,994.52C419.57,994.96 420.59,995.68 421.09,996.40C421.59,997.12 422.73,999.93 423.23,1000.68C423.73,1001.44 424.97,1002.57 425.38,1002.83C425.78,1003.09 426.28,1003.25 426.71,1002.94C427.15,1002.62 428.60,1000.72 429.13,1000.15C429.66,999.57 430.86,998.35 431.27,998.01C431.68,997.66 432.30,997.20 432.61,997.20C432.92,997.20 433.42,997.51 433.95,998.01C434.48,998.51 436.23,1000.71 437.17,1001.49C438.10,1002.27 441.46,1004.17 441.99,1004.70C442.52,1005.24 442.10,1005.89 441.72,1006.04C441.35,1006.20 438.68,1005.98 438.77,1006.04C438.87,1006.11 441.65,1006.49 442.52,1006.58C443.40,1006.67 445.40,1006.91 446.28,1006.85C447.15,1006.79 449.09,1006.42 450.03,1006.04C450.96,1005.67 453.19,1004.23 454.31,1003.63C455.44,1003.04 458.67,1001.36 459.67,1000.95C460.67,1000.55 462.42,1000.09 462.89,1000.15C463.36,1000.21 463.69,1000.93 463.69,1001.49C463.69,1002.05 463.17,1004.19 462.89,1004.97C462.61,1005.75 461.53,1007.66 461.28,1008.19C461.03,1008.72 460.65,1008.96 460.74,1009.53C460.84,1010.09 461.80,1012.23 462.08,1013.01C462.37,1013.79 463.13,1015.73 463.16,1016.23C463.19,1016.73 462.82,1017.24 462.35,1017.30C461.88,1017.36 460.08,1017.04 459.14,1016.76C458.20,1016.48 455.44,1015.36 454.31,1014.89C453.19,1014.42 450.43,1013.06 449.49,1012.74C448.55,1012.43 447.34,1012.21 446.28,1012.21C445.21,1012.21 441.04,1012.46 440.38,1012.74C439.72,1013.02 440.77,1014.02 440.65,1014.62C440.52,1015.21 439.68,1017.21 439.31,1017.83C438.93,1018.46 437.87,1019.70 437.43,1019.98C437.00,1020.26 436.09,1020.40 435.56,1020.25C435.03,1020.09 433.50,1019.14 432.88,1018.64C432.25,1018.14 430.76,1016.33 430.20,1015.96C429.64,1015.58 429.18,1015.42 428.05,1015.42C426.93,1015.42 422.24,1015.80 420.55,1015.96C418.86,1016.11 414.90,1016.64 413.59,1016.76C412.27,1016.89 409.64,1016.72 409.30,1017.03C408.95,1017.34 410.45,1018.85 410.64,1019.44C410.83,1020.04 411.00,1021.59 410.91,1022.12C410.81,1022.65 410.15,1023.76 409.83,1024.00C409.52,1024.23 408.73,1024.31 408.23,1024.16C407.73,1024.00 406.02,1023.08 405.55,1022.66C405.08,1022.23 404.52,1021.20 404.21,1020.51C403.89,1019.83 403.77,1017.39 402.87,1016.76C401.96,1016.14 398.12,1015.59 396.44,1015.15C394.75,1014.72 389.90,1013.45 388.40,1013.01C386.90,1012.57 384.29,1011.78 383.57,1011.40C382.86,1011.03 381.98,1010.36 382.23,1009.80Z" fill="#fff" stroke="#000" stroke-width="1.8" stroke-linejoin="round"/><path d="M588.04,1007.67C588.09,1007.11 589.81,1005.91 591.00,1005.34C592.18,1004.78 595.23,1003.83 596.92,1003.44C598.61,1003.05 601.66,1002.55 603.69,1002.38C605.72,1002.21 610.63,1002.62 612.15,1002.17C613.67,1001.72 614.38,999.70 615.11,999.00C615.84,998.29 617.14,997.05 617.65,996.88C618.16,996.71 618.58,997.11 618.92,997.73C619.26,998.35 619.79,1000.83 620.19,1001.54C620.58,1002.24 621.03,1002.65 621.88,1003.02C622.72,1003.38 625.35,1004.06 626.53,1004.29C627.72,1004.51 629.92,1004.46 630.76,1004.71C631.61,1004.96 632.31,1006.02 632.88,1006.19C633.44,1006.36 634.15,1006.32 634.99,1005.98C635.84,1005.64 638.09,1004.16 639.22,1003.65C640.35,1003.14 642.72,1002.28 643.45,1002.17C644.18,1002.06 644.78,1002.33 644.72,1002.81C644.66,1003.28 643.65,1005.01 643.03,1005.77C642.41,1006.53 640.12,1007.73 640.07,1008.52C640.01,1009.31 641.99,1010.87 642.61,1011.69C643.23,1012.51 644.72,1014.28 644.72,1014.65C644.72,1015.02 643.45,1014.72 642.61,1014.44C641.76,1014.16 639.50,1013.10 638.38,1012.53C637.25,1011.97 635.16,1010.55 634.15,1010.21C633.13,1009.87 631.49,1009.88 630.76,1010.00C630.03,1010.11 628.76,1010.60 628.65,1011.05C628.53,1011.51 629.80,1012.79 629.92,1013.38C630.03,1013.97 629.83,1015.27 629.49,1015.50C629.15,1015.72 628.11,1015.44 627.38,1015.07C626.64,1014.71 624.90,1012.97 623.99,1012.75C623.09,1012.52 621.12,1013.01 620.61,1013.38C620.10,1013.75 620.07,1014.82 620.19,1015.50C620.30,1016.17 621.51,1018.01 621.46,1018.46C621.40,1018.91 620.33,1019.11 619.76,1018.88C619.20,1018.65 617.85,1017.33 617.23,1016.76C616.60,1016.20 616.13,1015.04 615.11,1014.65C614.09,1014.25 611.25,1014.00 609.61,1013.80C607.98,1013.61 604.65,1013.48 602.84,1013.17C601.04,1012.86 597.71,1011.96 596.07,1011.48C594.44,1011.00 591.65,1010.08 590.58,1009.57C589.50,1009.07 587.98,1008.23 588.04,1007.67Z" fill="#fff" stroke="#000" stroke-width="3" stroke-linejoin="round"/><path d="M616.80,1013.38 L622.30,1012.53 L620.61,1015.07 L621.88,1018.46 L619.76,1019.09 L616.38,1015.92Z" fill="#000"/><circle cx="383.31" cy="1009.80" r="1.1" fill="#000"/><path d="M788.06,1007.63C788.06,1005.20 787.68,1005.32 788.24,1003.07C788.80,1000.83 788.62,1001.09 790.16,999.22C791.71,997.35 791.87,997.42 794.02,996.06C796.17,994.71 795.42,994.74 798.23,994.13C801.03,993.53 801.36,993.78 804.54,993.78C807.71,993.78 807.15,993.71 810.14,994.13C813.13,994.55 812.95,994.47 815.75,995.36C818.56,996.25 818.51,996.06 820.66,997.46C822.81,998.87 821.85,999.31 823.81,1000.62C825.78,1001.93 826.43,1001.06 828.02,1002.37C829.61,1003.68 829.26,1003.56 829.77,1005.53C830.29,1007.49 830.41,1007.58 829.95,1009.73C829.48,1011.88 829.37,1011.81 828.02,1013.59C826.66,1015.36 827.01,1014.99 824.87,1016.39C822.72,1017.79 822.58,1017.63 819.96,1018.84C817.34,1020.06 818.04,1020.15 815.05,1020.95C812.06,1021.74 811.92,1021.59 808.74,1021.82C805.56,1022.06 805.94,1022.15 803.13,1021.82C800.33,1021.50 800.66,1021.58 798.23,1020.60C795.80,1019.62 796.17,1019.45 794.02,1018.14C791.87,1016.84 791.71,1017.28 790.16,1015.69C788.62,1014.10 788.80,1014.33 788.24,1012.19C787.68,1010.04 788.06,1010.06 788.06,1007.63Z" fill="#000"/>
<path d="M1071.77,987.70C1072.64,986.36 1072.68,986.69 1074.73,986.22C1076.78,985.74 1077.57,986.16 1079.47,985.92C1081.36,985.69 1080.26,985.17 1081.84,985.33C1083.41,985.49 1083.49,985.25 1085.39,986.51C1087.28,987.78 1086.89,987.70 1088.94,990.07C1090.99,992.44 1090.88,992.55 1093.09,995.40C1095.30,998.24 1095.34,998.52 1097.23,1000.73C1099.13,1002.94 1098.30,1002.11 1100.19,1003.69C1102.09,1005.27 1101.18,1005.23 1104.34,1006.65C1107.50,1008.07 1107.62,1007.75 1112.04,1009.02C1116.46,1010.28 1116.18,1010.28 1120.92,1011.39C1125.66,1012.49 1125.38,1012.29 1129.80,1013.16C1134.23,1014.03 1134.03,1013.62 1137.50,1014.64C1140.98,1015.67 1140.15,1015.43 1142.83,1017.01C1145.52,1018.59 1145.04,1018.67 1147.57,1020.57C1150.10,1022.46 1150.25,1022.30 1152.31,1024.12C1154.36,1025.94 1154.08,1025.72 1155.27,1027.38C1156.45,1029.03 1156.91,1028.92 1156.75,1030.34C1156.59,1031.76 1156.02,1031.84 1154.68,1032.71C1153.33,1033.57 1152.82,1033.04 1151.72,1033.59C1150.61,1034.15 1151.48,1034.94 1150.53,1034.78C1149.58,1034.62 1149.43,1034.27 1148.16,1033.00C1146.90,1031.74 1147.06,1031.62 1145.79,1030.04C1144.53,1028.46 1146.11,1027.55 1143.42,1027.08C1140.74,1026.61 1140.94,1027.40 1135.73,1028.26C1130.51,1029.13 1130.20,1029.63 1123.88,1030.34C1117.56,1031.05 1118.35,1030.69 1112.04,1030.93C1105.72,1031.17 1106.04,1031.07 1100.19,1031.23C1094.35,1031.38 1094.07,1030.89 1090.13,1031.52C1086.18,1032.15 1087.76,1032.49 1085.39,1033.59C1083.02,1034.70 1083.14,1035.59 1081.24,1035.67C1079.35,1035.75 1079.62,1035.15 1078.28,1033.89C1076.94,1032.63 1076.68,1032.67 1076.21,1030.93C1075.74,1029.19 1076.11,1029.27 1076.51,1027.38C1076.90,1025.48 1077.29,1025.40 1077.69,1023.82C1078.08,1022.24 1078.54,1023.03 1077.99,1021.45C1077.43,1019.88 1076.72,1019.95 1075.62,1017.90C1074.51,1015.85 1074.55,1016.28 1073.84,1013.76C1073.13,1011.23 1073.43,1011.43 1072.95,1008.43C1072.48,1005.43 1072.38,1005.50 1072.06,1002.50C1071.75,999.50 1071.61,999.86 1071.77,997.17C1071.93,994.49 1072.73,994.02 1072.66,992.44C1072.58,990.86 1071.71,992.52 1071.47,991.25C1071.23,989.99 1070.90,989.04 1071.77,987.70Z" fill="#000"/><path d="M1331.43,1009.80C1331.68,1009.23 1333.57,1007.30 1334.92,1006.58C1336.26,1005.86 1340.96,1004.32 1342.96,1003.63C1344.96,1002.94 1350.88,1001.47 1352.07,1000.68C1353.26,999.90 1352.83,997.50 1353.14,996.93C1353.45,996.37 1354.40,996.36 1354.75,995.86C1355.09,995.36 1355.65,993.15 1356.09,992.65C1356.52,992.15 1357.84,991.73 1358.50,991.57C1359.15,991.42 1360.96,991.18 1361.71,991.31C1362.46,991.43 1364.18,992.27 1364.93,992.65C1365.68,993.02 1367.52,994.08 1368.14,994.52C1368.77,994.96 1369.79,995.68 1370.29,996.40C1370.79,997.12 1371.93,999.93 1372.43,1000.68C1372.93,1001.44 1374.17,1002.57 1374.58,1002.83C1374.98,1003.09 1375.48,1003.25 1375.91,1002.94C1376.35,1002.62 1377.80,1000.72 1378.33,1000.15C1378.86,999.57 1380.06,998.35 1380.47,998.01C1380.88,997.66 1381.50,997.20 1381.81,997.20C1382.12,997.20 1382.62,997.51 1383.15,998.01C1383.68,998.51 1385.43,1000.71 1386.37,1001.49C1387.30,1002.27 1390.66,1004.17 1391.19,1004.70C1391.72,1005.24 1391.30,1005.89 1390.92,1006.04C1390.55,1006.20 1387.88,1005.98 1387.97,1006.04C1388.07,1006.11 1390.85,1006.49 1391.72,1006.58C1392.60,1006.67 1394.60,1006.91 1395.48,1006.85C1396.35,1006.79 1398.29,1006.42 1399.23,1006.04C1400.16,1005.67 1402.39,1004.23 1403.51,1003.63C1404.64,1003.04 1407.87,1001.36 1408.87,1000.95C1409.87,1000.55 1411.62,1000.09 1412.09,1000.15C1412.56,1000.21 1412.89,1000.93 1412.89,1001.49C1412.89,1002.05 1412.37,1004.19 1412.09,1004.97C1411.81,1005.75 1410.73,1007.66 1410.48,1008.19C1410.23,1008.72 1409.85,1008.96 1409.94,1009.53C1410.04,1010.09 1411.00,1012.23 1411.28,1013.01C1411.57,1013.79 1412.33,1015.73 1412.36,1016.23C1412.39,1016.73 1412.02,1017.24 1411.55,1017.30C1411.08,1017.36 1409.28,1017.04 1408.34,1016.76C1407.40,1016.48 1404.64,1015.36 1403.51,1014.89C1402.39,1014.42 1399.63,1013.06 1398.69,1012.74C1397.75,1012.43 1396.54,1012.21 1395.48,1012.21C1394.41,1012.21 1390.24,1012.46 1389.58,1012.74C1388.92,1013.02 1389.97,1014.02 1389.85,1014.62C1389.72,1015.21 1388.88,1017.21 1388.51,1017.83C1388.13,1018.46 1387.07,1019.70 1386.63,1019.98C1386.20,1020.26 1385.29,1020.40 1384.76,1020.25C1384.23,1020.09 1382.70,1019.14 1382.08,1018.64C1381.45,1018.14 1379.96,1016.33 1379.40,1015.96C1378.84,1015.58 1378.38,1015.42 1377.25,1015.42C1376.13,1015.42 1371.44,1015.80 1369.75,1015.96C1368.06,1016.11 1364.10,1016.64 1362.79,1016.76C1361.47,1016.89 1358.84,1016.72 1358.50,1017.03C1358.15,1017.34 1359.65,1018.85 1359.84,1019.44C1360.03,1020.04 1360.20,1021.59 1360.11,1022.12C1360.01,1022.65 1359.35,1023.76 1359.03,1024.00C1358.72,1024.23 1357.93,1024.31 1357.43,1024.16C1356.93,1024.00 1355.22,1023.08 1354.75,1022.66C1354.28,1022.23 1353.72,1021.20 1353.41,1020.51C1353.09,1019.83 1352.97,1017.39 1352.07,1016.76C1351.16,1016.14 1347.32,1015.59 1345.64,1015.15C1343.95,1014.72 1339.10,1013.45 1337.60,1013.01C1336.10,1012.57 1333.49,1011.78 1332.77,1011.40C1332.06,1011.03 1331.18,1010.36 1331.43,1009.80Z" fill="#fff" stroke="#000" stroke-width="1.8" stroke-linejoin="round"/><path d="M1594.94,1007.67C1594.99,1007.11 1596.71,1005.91 1597.90,1005.34C1599.08,1004.78 1602.13,1003.83 1603.82,1003.44C1605.51,1003.05 1608.56,1002.55 1610.59,1002.38C1612.62,1002.21 1617.53,1002.62 1619.05,1002.17C1620.57,1001.72 1621.28,999.70 1622.01,999.00C1622.74,998.29 1624.04,997.05 1624.55,996.88C1625.06,996.71 1625.48,997.11 1625.82,997.73C1626.16,998.35 1626.69,1000.83 1627.09,1001.54C1627.48,1002.24 1627.93,1002.65 1628.78,1003.02C1629.62,1003.38 1632.25,1004.06 1633.43,1004.29C1634.62,1004.51 1636.82,1004.46 1637.66,1004.71C1638.51,1004.96 1639.21,1006.02 1639.78,1006.19C1640.34,1006.36 1641.05,1006.32 1641.89,1005.98C1642.74,1005.64 1644.99,1004.16 1646.12,1003.65C1647.25,1003.14 1649.62,1002.28 1650.35,1002.17C1651.08,1002.06 1651.68,1002.33 1651.62,1002.81C1651.56,1003.28 1650.55,1005.01 1649.93,1005.77C1649.31,1006.53 1647.02,1007.73 1646.97,1008.52C1646.91,1009.31 1648.89,1010.87 1649.51,1011.69C1650.13,1012.51 1651.62,1014.28 1651.62,1014.65C1651.62,1015.02 1650.35,1014.72 1649.51,1014.44C1648.66,1014.16 1646.40,1013.10 1645.28,1012.53C1644.15,1011.97 1642.06,1010.55 1641.05,1010.21C1640.03,1009.87 1638.39,1009.88 1637.66,1010.00C1636.93,1010.11 1635.66,1010.60 1635.55,1011.05C1635.43,1011.51 1636.70,1012.79 1636.82,1013.38C1636.93,1013.97 1636.73,1015.27 1636.39,1015.50C1636.05,1015.72 1635.01,1015.44 1634.28,1015.07C1633.54,1014.71 1631.80,1012.97 1630.89,1012.75C1629.99,1012.52 1628.02,1013.01 1627.51,1013.38C1627.00,1013.75 1626.97,1014.82 1627.09,1015.50C1627.20,1016.17 1628.41,1018.01 1628.36,1018.46C1628.30,1018.91 1627.23,1019.11 1626.66,1018.88C1626.10,1018.65 1624.75,1017.33 1624.13,1016.76C1623.50,1016.20 1623.03,1015.04 1622.01,1014.65C1620.99,1014.25 1618.15,1014.00 1616.51,1013.80C1614.88,1013.61 1611.55,1013.48 1609.74,1013.17C1607.94,1012.86 1604.61,1011.96 1602.97,1011.48C1601.34,1011.00 1598.55,1010.08 1597.48,1009.57C1596.40,1009.07 1594.88,1008.23 1594.94,1007.67Z" fill="#fff" stroke="#000" stroke-width="3" stroke-linejoin="round"/><path d="M1623.70,1013.38 L1629.20,1012.53 L1627.51,1015.07 L1628.78,1018.46 L1626.66,1019.09 L1623.28,1015.92Z" fill="#000"/><circle cx="1332.51" cy="1009.80" r="1.1" fill="#000"/>
<text x="106.7" y="24.8" font-size="27.6" text-anchor="end">100%</text>
<text x="104.5" y="258.8" font-size="27.6" text-anchor="end">75%</text>
<text x="104.5" y="502.8" font-size="27.6" text-anchor="end">50%</text>
<text x="104.5" y="742.9" font-size="27.6" text-anchor="end">25%</text>
<text x="104.5" y="983.9" font-size="27.6" text-anchor="end">0%</text>
<text x="125.6" y="47.3" font-size="30" font-style="italic" fill="#4d4d4d">Model B1</text>
<text x="971.4" y="47.3" font-size="30" font-style="italic" fill="#4d4d4d">Model C1</text>
<text transform="translate(30.2,499.5) rotate(-90)" font-size="34.5" text-anchor="middle">Proportion of Dog Diet (%)</text>
<text x="523.0" y="1129.8" font-size="29" text-anchor="middle" textLength="171.0" lengthAdjust="spacingAndGlyphs">Food Group</text>
<text x="1386.4" y="1129.8" font-size="29" text-anchor="middle" textLength="171.0" lengthAdjust="spacingAndGlyphs">Food Group</text>
<text x="232.5" y="1054.5" font-size="24" text-anchor="middle" textLength="83.9" lengthAdjust="spacingAndGlyphs">Marine</text>
<text x="235.7" y="1085.6" font-size="24" text-anchor="middle" textLength="118.0" lengthAdjust="spacingAndGlyphs">Mammals</text>
<text x="424.9" y="1054.6" font-size="24" text-anchor="middle" textLength="128.5" lengthAdjust="spacingAndGlyphs">Nearshore</text>
<text x="428.4" y="1085.6" font-size="24" text-anchor="middle" textLength="52.2" lengthAdjust="spacingAndGlyphs">Fish</text>
<text x="623.1" y="1054.6" font-size="24" text-anchor="middle" textLength="111.4" lengthAdjust="spacingAndGlyphs">Salmon &amp;</text>
<text x="623.3" y="1085.6" font-size="24" text-anchor="middle" textLength="133.8" lengthAdjust="spacingAndGlyphs">Forage Fish</text>
<text x="810.0" y="1059.7" font-size="24" text-anchor="middle" textLength="108.9" lengthAdjust="spacingAndGlyphs">Shellfish</text>
<text x="1113.8" y="1054.5" font-size="24" text-anchor="middle" textLength="85.0" lengthAdjust="spacingAndGlyphs">Marine</text>
<text x="1117.3" y="1085.6" font-size="24" text-anchor="middle" textLength="118.4" lengthAdjust="spacingAndGlyphs">Mammals</text>
<text x="1374.1" y="1054.6" font-size="24" text-anchor="middle" textLength="128.4" lengthAdjust="spacingAndGlyphs">Nearshore</text>
<text x="1377.5" y="1085.6" font-size="24" text-anchor="middle" textLength="53.4" lengthAdjust="spacingAndGlyphs">Fish</text>
<text x="1629.8" y="1054.6" font-size="24" text-anchor="middle" textLength="111.2" lengthAdjust="spacingAndGlyphs">Salmon &amp;</text>
<text x="1630.1" y="1085.6" font-size="24" text-anchor="middle" textLength="135.1" lengthAdjust="spacingAndGlyphs">Forage Fish</text>
</svg></body></html>
